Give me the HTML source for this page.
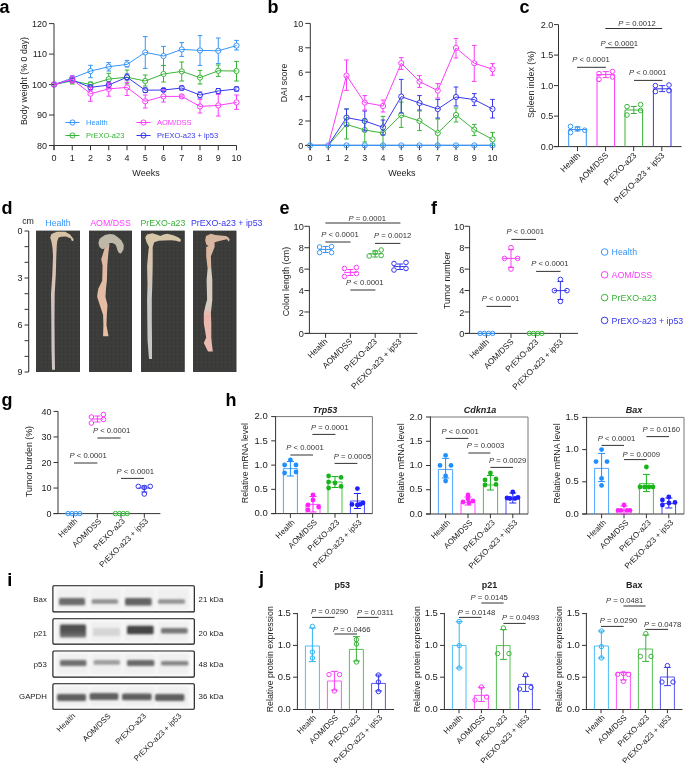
<!DOCTYPE html>
<html><head><meta charset="utf-8"><style>
html,body{margin:0;padding:0;background:#fff;}
svg{display:block;will-change:transform;}
text{font-family:"Liberation Sans", sans-serif;}
</style></head><body>
<svg width="685" height="763" viewBox="0 0 685 763">
<defs>
<filter id="blur2" x="-20%" y="-20%" width="140%" height="140%"><feGaussianBlur stdDeviation="1.5"/></filter>
<filter id="blur" x="-20%" y="-80%" width="140%" height="260%"><feGaussianBlur stdDeviation="1.0"/></filter>
<linearGradient id="gp21" x1="0" y1="0" x2="0" y2="1"><stop offset="0" stop-color="#4a4a4a"/><stop offset="0.55" stop-color="#555"/><stop offset="1" stop-color="#7a7a7a"/></linearGradient>
<linearGradient id="gH" gradientUnits="userSpaceOnUse" x1="0" y1="230" x2="0" y2="372"><stop offset="0" stop-color="#d6c3a5"/><stop offset="0.1" stop-color="#d9c0ab"/><stop offset="0.3" stop-color="#dcc0b2"/><stop offset="0.55" stop-color="#cfc3c2"/><stop offset="1" stop-color="#cdc6c4"/></linearGradient>
<linearGradient id="gA" gradientUnits="userSpaceOnUse" x1="0" y1="245" x2="0" y2="337"><stop offset="0" stop-color="#dcb9a2"/><stop offset="0.5" stop-color="#e6bba3"/><stop offset="1" stop-color="#e8c0a8"/></linearGradient>
<linearGradient id="gP" gradientUnits="userSpaceOnUse" x1="0" y1="230" x2="0" y2="360"><stop offset="0" stop-color="#d8c7a6"/><stop offset="0.2" stop-color="#d6c4ac"/><stop offset="0.38" stop-color="#d4c4b6"/><stop offset="0.5" stop-color="#c6c9c8"/><stop offset="1" stop-color="#c4c8c6"/></linearGradient>
<linearGradient id="gI" gradientUnits="userSpaceOnUse" x1="0" y1="230" x2="0" y2="352"><stop offset="0" stop-color="#d6b6a0"/><stop offset="0.3" stop-color="#dcb8a2"/><stop offset="0.33" stop-color="#d6cfc0"/><stop offset="0.64" stop-color="#d8ccbe"/><stop offset="0.7" stop-color="#e8b6ac"/><stop offset="1" stop-color="#ecbcb2"/></linearGradient>
<pattern id="bg" width="4" height="4" patternUnits="userSpaceOnUse"><rect width="4" height="4" fill="#3c3c3a"/><rect x="1" y="2" width="1" height="1" fill="#444442"/><rect x="3" y="0" width="1" height="1" fill="#353533"/></pattern>
</defs>
<text x="-0.5" y="13" font-size="18" text-anchor="start" fill="#000" font-weight="bold">a</text>
<line x1="54" y1="23.6" x2="54" y2="150" stroke="#333" stroke-width="1"/>
<line x1="49" y1="145.5" x2="236.5" y2="145.5" stroke="#333" stroke-width="1"/>
<line x1="49" y1="145.5" x2="54" y2="145.5" stroke="#333" stroke-width="1"/>
<text x="47" y="148.69" font-size="9" text-anchor="end" fill="#222">80</text>
<line x1="49" y1="115.03" x2="54" y2="115.03" stroke="#333" stroke-width="1"/>
<text x="47" y="118.22" font-size="9" text-anchor="end" fill="#222">90</text>
<line x1="49" y1="84.55" x2="54" y2="84.55" stroke="#333" stroke-width="1"/>
<text x="47" y="87.75" font-size="9" text-anchor="end" fill="#222">100</text>
<line x1="49" y1="54.08" x2="54" y2="54.08" stroke="#333" stroke-width="1"/>
<text x="47" y="57.27" font-size="9" text-anchor="end" fill="#222">110</text>
<line x1="49" y1="23.6" x2="54" y2="23.6" stroke="#333" stroke-width="1"/>
<text x="47" y="26.8" font-size="9" text-anchor="end" fill="#222">120</text>
<line x1="54" y1="145.5" x2="54" y2="150.3" stroke="#333" stroke-width="1"/>
<text x="54" y="161.2" font-size="9" text-anchor="middle" fill="#222">0</text>
<line x1="72.25" y1="145.5" x2="72.25" y2="150.3" stroke="#333" stroke-width="1"/>
<text x="72.25" y="161.2" font-size="9" text-anchor="middle" fill="#222">1</text>
<line x1="90.5" y1="145.5" x2="90.5" y2="150.3" stroke="#333" stroke-width="1"/>
<text x="90.5" y="161.2" font-size="9" text-anchor="middle" fill="#222">2</text>
<line x1="108.75" y1="145.5" x2="108.75" y2="150.3" stroke="#333" stroke-width="1"/>
<text x="108.75" y="161.2" font-size="9" text-anchor="middle" fill="#222">3</text>
<line x1="127" y1="145.5" x2="127" y2="150.3" stroke="#333" stroke-width="1"/>
<text x="127" y="161.2" font-size="9" text-anchor="middle" fill="#222">4</text>
<line x1="145.25" y1="145.5" x2="145.25" y2="150.3" stroke="#333" stroke-width="1"/>
<text x="145.25" y="161.2" font-size="9" text-anchor="middle" fill="#222">5</text>
<line x1="163.5" y1="145.5" x2="163.5" y2="150.3" stroke="#333" stroke-width="1"/>
<text x="163.5" y="161.2" font-size="9" text-anchor="middle" fill="#222">6</text>
<line x1="181.75" y1="145.5" x2="181.75" y2="150.3" stroke="#333" stroke-width="1"/>
<text x="181.75" y="161.2" font-size="9" text-anchor="middle" fill="#222">7</text>
<line x1="200" y1="145.5" x2="200" y2="150.3" stroke="#333" stroke-width="1"/>
<text x="200" y="161.2" font-size="9" text-anchor="middle" fill="#222">8</text>
<line x1="218.25" y1="145.5" x2="218.25" y2="150.3" stroke="#333" stroke-width="1"/>
<text x="218.25" y="161.2" font-size="9" text-anchor="middle" fill="#222">9</text>
<line x1="236.5" y1="145.5" x2="236.5" y2="150.3" stroke="#333" stroke-width="1"/>
<text x="236.5" y="161.2" font-size="9" text-anchor="middle" fill="#222">10</text>
<text x="146" y="175.7" font-size="9" text-anchor="middle" fill="#222">Weeks</text>
<text x="27.3" y="81" font-size="8.8" text-anchor="middle" fill="#222" transform="rotate(-90 27.3 81)">Body weight (% 0 day)</text>
<polyline points="54,84.5 72.25,78.2 90.5,71.1 108.75,66.7 127,64.4 145.25,52.4 163.5,56 181.75,49.4 200,50.4 218.25,50.8 236.5,45.6" fill="none" stroke="#3595f8" stroke-width="1"/>
<circle cx="54" cy="84.5" r="2.6" stroke="#3595f8" fill="none" stroke-width="1"/>
<line x1="69.95" y1="76" x2="74.55" y2="76" stroke="#3595f8" stroke-width="1"/>
<line x1="69.95" y1="80.5" x2="74.55" y2="80.5" stroke="#3595f8" stroke-width="1"/>
<circle cx="72.25" cy="78.2" r="2.6" stroke="#3595f8" fill="none" stroke-width="1"/>
<line x1="90.5" y1="65.3" x2="90.5" y2="68.5" stroke="#3595f8" stroke-width="1"/>
<line x1="90.5" y1="73.7" x2="90.5" y2="77.7" stroke="#3595f8" stroke-width="1"/>
<line x1="88.2" y1="65.3" x2="92.8" y2="65.3" stroke="#3595f8" stroke-width="1"/>
<line x1="88.2" y1="77.7" x2="92.8" y2="77.7" stroke="#3595f8" stroke-width="1"/>
<circle cx="90.5" cy="71.1" r="2.6" stroke="#3595f8" fill="none" stroke-width="1"/>
<line x1="108.75" y1="62.6" x2="108.75" y2="64.1" stroke="#3595f8" stroke-width="1"/>
<line x1="108.75" y1="69.3" x2="108.75" y2="71" stroke="#3595f8" stroke-width="1"/>
<line x1="106.45" y1="62.6" x2="111.05" y2="62.6" stroke="#3595f8" stroke-width="1"/>
<line x1="106.45" y1="71" x2="111.05" y2="71" stroke="#3595f8" stroke-width="1"/>
<circle cx="108.75" cy="66.7" r="2.6" stroke="#3595f8" fill="none" stroke-width="1"/>
<line x1="127" y1="60.4" x2="127" y2="61.8" stroke="#3595f8" stroke-width="1"/>
<line x1="124.7" y1="60.4" x2="129.3" y2="60.4" stroke="#3595f8" stroke-width="1"/>
<line x1="124.7" y1="67" x2="129.3" y2="67" stroke="#3595f8" stroke-width="1"/>
<circle cx="127" cy="64.4" r="2.6" stroke="#3595f8" fill="none" stroke-width="1"/>
<line x1="145.25" y1="36.6" x2="145.25" y2="49.8" stroke="#3595f8" stroke-width="1"/>
<line x1="145.25" y1="55" x2="145.25" y2="68.4" stroke="#3595f8" stroke-width="1"/>
<line x1="142.95" y1="36.6" x2="147.55" y2="36.6" stroke="#3595f8" stroke-width="1"/>
<line x1="142.95" y1="68.4" x2="147.55" y2="68.4" stroke="#3595f8" stroke-width="1"/>
<circle cx="145.25" cy="52.4" r="2.6" stroke="#3595f8" fill="none" stroke-width="1"/>
<line x1="163.5" y1="46.4" x2="163.5" y2="53.4" stroke="#3595f8" stroke-width="1"/>
<line x1="163.5" y1="58.6" x2="163.5" y2="65.4" stroke="#3595f8" stroke-width="1"/>
<line x1="161.2" y1="46.4" x2="165.8" y2="46.4" stroke="#3595f8" stroke-width="1"/>
<line x1="161.2" y1="65.4" x2="165.8" y2="65.4" stroke="#3595f8" stroke-width="1"/>
<circle cx="163.5" cy="56" r="2.6" stroke="#3595f8" fill="none" stroke-width="1"/>
<line x1="181.75" y1="42.6" x2="181.75" y2="46.8" stroke="#3595f8" stroke-width="1"/>
<line x1="181.75" y1="52" x2="181.75" y2="56.4" stroke="#3595f8" stroke-width="1"/>
<line x1="179.45" y1="42.6" x2="184.05" y2="42.6" stroke="#3595f8" stroke-width="1"/>
<line x1="179.45" y1="56.4" x2="184.05" y2="56.4" stroke="#3595f8" stroke-width="1"/>
<circle cx="181.75" cy="49.4" r="2.6" stroke="#3595f8" fill="none" stroke-width="1"/>
<line x1="200" y1="35.6" x2="200" y2="47.8" stroke="#3595f8" stroke-width="1"/>
<line x1="200" y1="53" x2="200" y2="65.4" stroke="#3595f8" stroke-width="1"/>
<line x1="197.7" y1="35.6" x2="202.3" y2="35.6" stroke="#3595f8" stroke-width="1"/>
<line x1="197.7" y1="65.4" x2="202.3" y2="65.4" stroke="#3595f8" stroke-width="1"/>
<circle cx="200" cy="50.4" r="2.6" stroke="#3595f8" fill="none" stroke-width="1"/>
<line x1="218.25" y1="38" x2="218.25" y2="48.2" stroke="#3595f8" stroke-width="1"/>
<line x1="218.25" y1="53.4" x2="218.25" y2="63.6" stroke="#3595f8" stroke-width="1"/>
<line x1="215.95" y1="38" x2="220.55" y2="38" stroke="#3595f8" stroke-width="1"/>
<line x1="215.95" y1="63.6" x2="220.55" y2="63.6" stroke="#3595f8" stroke-width="1"/>
<circle cx="218.25" cy="50.8" r="2.6" stroke="#3595f8" fill="none" stroke-width="1"/>
<line x1="236.5" y1="40.4" x2="236.5" y2="43" stroke="#3595f8" stroke-width="1"/>
<line x1="236.5" y1="48.2" x2="236.5" y2="50" stroke="#3595f8" stroke-width="1"/>
<line x1="234.2" y1="40.4" x2="238.8" y2="40.4" stroke="#3595f8" stroke-width="1"/>
<line x1="234.2" y1="50" x2="238.8" y2="50" stroke="#3595f8" stroke-width="1"/>
<circle cx="236.5" cy="45.6" r="2.6" stroke="#3595f8" fill="none" stroke-width="1"/>
<polyline points="54,84.5 72.25,80.9 90.5,84.5 108.75,79.1 127,77.2 145.25,81 163.5,74 181.75,71.4 200,77.6 218.25,70.8 236.5,71" fill="none" stroke="#37b437" stroke-width="1"/>
<circle cx="54" cy="84.5" r="2.6" stroke="#37b437" fill="none" stroke-width="1"/>
<line x1="72.25" y1="78" x2="72.25" y2="78.3" stroke="#37b437" stroke-width="1"/>
<line x1="72.25" y1="83.5" x2="72.25" y2="84" stroke="#37b437" stroke-width="1"/>
<line x1="69.95" y1="78" x2="74.55" y2="78" stroke="#37b437" stroke-width="1"/>
<line x1="69.95" y1="84" x2="74.55" y2="84" stroke="#37b437" stroke-width="1"/>
<circle cx="72.25" cy="80.9" r="2.6" stroke="#37b437" fill="none" stroke-width="1"/>
<line x1="88.2" y1="82" x2="92.8" y2="82" stroke="#37b437" stroke-width="1"/>
<line x1="88.2" y1="87" x2="92.8" y2="87" stroke="#37b437" stroke-width="1"/>
<circle cx="90.5" cy="84.5" r="2.6" stroke="#37b437" fill="none" stroke-width="1"/>
<line x1="108.75" y1="73.3" x2="108.75" y2="76.5" stroke="#37b437" stroke-width="1"/>
<line x1="108.75" y1="81.7" x2="108.75" y2="83.8" stroke="#37b437" stroke-width="1"/>
<line x1="106.45" y1="73.3" x2="111.05" y2="73.3" stroke="#37b437" stroke-width="1"/>
<line x1="106.45" y1="83.8" x2="111.05" y2="83.8" stroke="#37b437" stroke-width="1"/>
<circle cx="108.75" cy="79.1" r="2.6" stroke="#37b437" fill="none" stroke-width="1"/>
<line x1="127" y1="70" x2="127" y2="74.6" stroke="#37b437" stroke-width="1"/>
<line x1="127" y1="79.8" x2="127" y2="83.8" stroke="#37b437" stroke-width="1"/>
<line x1="124.7" y1="70" x2="129.3" y2="70" stroke="#37b437" stroke-width="1"/>
<line x1="124.7" y1="83.8" x2="129.3" y2="83.8" stroke="#37b437" stroke-width="1"/>
<circle cx="127" cy="77.2" r="2.6" stroke="#37b437" fill="none" stroke-width="1"/>
<line x1="145.25" y1="75" x2="145.25" y2="78.4" stroke="#37b437" stroke-width="1"/>
<line x1="145.25" y1="83.6" x2="145.25" y2="86" stroke="#37b437" stroke-width="1"/>
<line x1="142.95" y1="75" x2="147.55" y2="75" stroke="#37b437" stroke-width="1"/>
<line x1="142.95" y1="86" x2="147.55" y2="86" stroke="#37b437" stroke-width="1"/>
<circle cx="145.25" cy="81" r="2.6" stroke="#37b437" fill="none" stroke-width="1"/>
<line x1="163.5" y1="65.6" x2="163.5" y2="71.4" stroke="#37b437" stroke-width="1"/>
<line x1="163.5" y1="76.6" x2="163.5" y2="82" stroke="#37b437" stroke-width="1"/>
<line x1="161.2" y1="65.6" x2="165.8" y2="65.6" stroke="#37b437" stroke-width="1"/>
<line x1="161.2" y1="82" x2="165.8" y2="82" stroke="#37b437" stroke-width="1"/>
<circle cx="163.5" cy="74" r="2.6" stroke="#37b437" fill="none" stroke-width="1"/>
<line x1="181.75" y1="62" x2="181.75" y2="68.8" stroke="#37b437" stroke-width="1"/>
<line x1="181.75" y1="74" x2="181.75" y2="81" stroke="#37b437" stroke-width="1"/>
<line x1="179.45" y1="62" x2="184.05" y2="62" stroke="#37b437" stroke-width="1"/>
<line x1="179.45" y1="81" x2="184.05" y2="81" stroke="#37b437" stroke-width="1"/>
<circle cx="181.75" cy="71.4" r="2.6" stroke="#37b437" fill="none" stroke-width="1"/>
<line x1="200" y1="70.4" x2="200" y2="75" stroke="#37b437" stroke-width="1"/>
<line x1="200" y1="80.2" x2="200" y2="84" stroke="#37b437" stroke-width="1"/>
<line x1="197.7" y1="70.4" x2="202.3" y2="70.4" stroke="#37b437" stroke-width="1"/>
<line x1="197.7" y1="84" x2="202.3" y2="84" stroke="#37b437" stroke-width="1"/>
<circle cx="200" cy="77.6" r="2.6" stroke="#37b437" fill="none" stroke-width="1"/>
<line x1="218.25" y1="65" x2="218.25" y2="68.2" stroke="#37b437" stroke-width="1"/>
<line x1="218.25" y1="73.4" x2="218.25" y2="76.4" stroke="#37b437" stroke-width="1"/>
<line x1="215.95" y1="65" x2="220.55" y2="65" stroke="#37b437" stroke-width="1"/>
<line x1="215.95" y1="76.4" x2="220.55" y2="76.4" stroke="#37b437" stroke-width="1"/>
<circle cx="218.25" cy="70.8" r="2.6" stroke="#37b437" fill="none" stroke-width="1"/>
<line x1="236.5" y1="61.4" x2="236.5" y2="68.4" stroke="#37b437" stroke-width="1"/>
<line x1="236.5" y1="73.6" x2="236.5" y2="81" stroke="#37b437" stroke-width="1"/>
<line x1="234.2" y1="61.4" x2="238.8" y2="61.4" stroke="#37b437" stroke-width="1"/>
<line x1="234.2" y1="81" x2="238.8" y2="81" stroke="#37b437" stroke-width="1"/>
<circle cx="236.5" cy="71" r="2.6" stroke="#37b437" fill="none" stroke-width="1"/>
<polyline points="54,84.5 72.25,80 90.5,87.4 108.75,85 127,77.2 145.25,90.2 163.5,90 181.75,88 200,95 218.25,91 236.5,89" fill="none" stroke="#3737ef" stroke-width="1"/>
<circle cx="54" cy="84.5" r="2.6" stroke="#3737ef" fill="none" stroke-width="1"/>
<line x1="69.95" y1="78" x2="74.55" y2="78" stroke="#3737ef" stroke-width="1"/>
<line x1="69.95" y1="82" x2="74.55" y2="82" stroke="#3737ef" stroke-width="1"/>
<circle cx="72.25" cy="80" r="2.6" stroke="#3737ef" fill="none" stroke-width="1"/>
<line x1="88.2" y1="85" x2="92.8" y2="85" stroke="#3737ef" stroke-width="1"/>
<line x1="88.2" y1="90" x2="92.8" y2="90" stroke="#3737ef" stroke-width="1"/>
<circle cx="90.5" cy="87.4" r="2.6" stroke="#3737ef" fill="none" stroke-width="1"/>
<line x1="108.75" y1="82" x2="108.75" y2="82.4" stroke="#3737ef" stroke-width="1"/>
<line x1="108.75" y1="87.6" x2="108.75" y2="88" stroke="#3737ef" stroke-width="1"/>
<line x1="106.45" y1="82" x2="111.05" y2="82" stroke="#3737ef" stroke-width="1"/>
<line x1="106.45" y1="88" x2="111.05" y2="88" stroke="#3737ef" stroke-width="1"/>
<circle cx="108.75" cy="85" r="2.6" stroke="#3737ef" fill="none" stroke-width="1"/>
<line x1="127" y1="74" x2="127" y2="74.6" stroke="#3737ef" stroke-width="1"/>
<line x1="127" y1="79.8" x2="127" y2="80" stroke="#3737ef" stroke-width="1"/>
<line x1="124.7" y1="74" x2="129.3" y2="74" stroke="#3737ef" stroke-width="1"/>
<line x1="124.7" y1="80" x2="129.3" y2="80" stroke="#3737ef" stroke-width="1"/>
<circle cx="127" cy="77.2" r="2.6" stroke="#3737ef" fill="none" stroke-width="1"/>
<line x1="142.95" y1="88" x2="147.55" y2="88" stroke="#3737ef" stroke-width="1"/>
<line x1="142.95" y1="92.5" x2="147.55" y2="92.5" stroke="#3737ef" stroke-width="1"/>
<circle cx="145.25" cy="90.2" r="2.6" stroke="#3737ef" fill="none" stroke-width="1"/>
<line x1="161.2" y1="88.5" x2="165.8" y2="88.5" stroke="#3737ef" stroke-width="1"/>
<line x1="161.2" y1="91.5" x2="165.8" y2="91.5" stroke="#3737ef" stroke-width="1"/>
<circle cx="163.5" cy="90" r="2.6" stroke="#3737ef" fill="none" stroke-width="1"/>
<line x1="179.45" y1="86" x2="184.05" y2="86" stroke="#3737ef" stroke-width="1"/>
<line x1="179.45" y1="90" x2="184.05" y2="90" stroke="#3737ef" stroke-width="1"/>
<circle cx="181.75" cy="88" r="2.6" stroke="#3737ef" fill="none" stroke-width="1"/>
<line x1="200" y1="92" x2="200" y2="92.4" stroke="#3737ef" stroke-width="1"/>
<line x1="200" y1="97.6" x2="200" y2="98" stroke="#3737ef" stroke-width="1"/>
<line x1="197.7" y1="92" x2="202.3" y2="92" stroke="#3737ef" stroke-width="1"/>
<line x1="197.7" y1="98" x2="202.3" y2="98" stroke="#3737ef" stroke-width="1"/>
<circle cx="200" cy="95" r="2.6" stroke="#3737ef" fill="none" stroke-width="1"/>
<line x1="215.95" y1="88.5" x2="220.55" y2="88.5" stroke="#3737ef" stroke-width="1"/>
<line x1="215.95" y1="93.5" x2="220.55" y2="93.5" stroke="#3737ef" stroke-width="1"/>
<circle cx="218.25" cy="91" r="2.6" stroke="#3737ef" fill="none" stroke-width="1"/>
<line x1="234.2" y1="87" x2="238.8" y2="87" stroke="#3737ef" stroke-width="1"/>
<line x1="234.2" y1="91" x2="238.8" y2="91" stroke="#3737ef" stroke-width="1"/>
<circle cx="236.5" cy="89" r="2.6" stroke="#3737ef" fill="none" stroke-width="1"/>
<polyline points="54,84.5 72.25,79.4 90.5,93.7 108.75,88.9 127,87.4 145.25,101.3 163.5,96.4 181.75,96.4 200,106.4 218.25,105.4 236.5,102.4" fill="none" stroke="#fb3cfb" stroke-width="1"/>
<circle cx="54" cy="84.5" r="2.6" stroke="#fb3cfb" fill="none" stroke-width="1"/>
<line x1="72.25" y1="76" x2="72.25" y2="76.8" stroke="#fb3cfb" stroke-width="1"/>
<line x1="72.25" y1="82" x2="72.25" y2="83" stroke="#fb3cfb" stroke-width="1"/>
<line x1="69.95" y1="76" x2="74.55" y2="76" stroke="#fb3cfb" stroke-width="1"/>
<line x1="69.95" y1="83" x2="74.55" y2="83" stroke="#fb3cfb" stroke-width="1"/>
<circle cx="72.25" cy="79.4" r="2.6" stroke="#fb3cfb" fill="none" stroke-width="1"/>
<line x1="90.5" y1="87.4" x2="90.5" y2="91.1" stroke="#fb3cfb" stroke-width="1"/>
<line x1="90.5" y1="96.3" x2="90.5" y2="101.3" stroke="#fb3cfb" stroke-width="1"/>
<line x1="88.2" y1="87.4" x2="92.8" y2="87.4" stroke="#fb3cfb" stroke-width="1"/>
<line x1="88.2" y1="101.3" x2="92.8" y2="101.3" stroke="#fb3cfb" stroke-width="1"/>
<circle cx="90.5" cy="93.7" r="2.6" stroke="#fb3cfb" fill="none" stroke-width="1"/>
<line x1="108.75" y1="83" x2="108.75" y2="86.3" stroke="#fb3cfb" stroke-width="1"/>
<line x1="108.75" y1="91.5" x2="108.75" y2="96.2" stroke="#fb3cfb" stroke-width="1"/>
<line x1="106.45" y1="83" x2="111.05" y2="83" stroke="#fb3cfb" stroke-width="1"/>
<line x1="106.45" y1="96.2" x2="111.05" y2="96.2" stroke="#fb3cfb" stroke-width="1"/>
<circle cx="108.75" cy="88.9" r="2.6" stroke="#fb3cfb" fill="none" stroke-width="1"/>
<line x1="127" y1="82.3" x2="127" y2="84.8" stroke="#fb3cfb" stroke-width="1"/>
<line x1="127" y1="90" x2="127" y2="95.5" stroke="#fb3cfb" stroke-width="1"/>
<line x1="124.7" y1="82.3" x2="129.3" y2="82.3" stroke="#fb3cfb" stroke-width="1"/>
<line x1="124.7" y1="95.5" x2="129.3" y2="95.5" stroke="#fb3cfb" stroke-width="1"/>
<circle cx="127" cy="87.4" r="2.6" stroke="#fb3cfb" fill="none" stroke-width="1"/>
<line x1="145.25" y1="95" x2="145.25" y2="98.7" stroke="#fb3cfb" stroke-width="1"/>
<line x1="145.25" y1="103.9" x2="145.25" y2="108" stroke="#fb3cfb" stroke-width="1"/>
<line x1="142.95" y1="95" x2="147.55" y2="95" stroke="#fb3cfb" stroke-width="1"/>
<line x1="142.95" y1="108" x2="147.55" y2="108" stroke="#fb3cfb" stroke-width="1"/>
<circle cx="145.25" cy="101.3" r="2.6" stroke="#fb3cfb" fill="none" stroke-width="1"/>
<line x1="163.5" y1="90" x2="163.5" y2="93.8" stroke="#fb3cfb" stroke-width="1"/>
<line x1="163.5" y1="99" x2="163.5" y2="102" stroke="#fb3cfb" stroke-width="1"/>
<line x1="161.2" y1="90" x2="165.8" y2="90" stroke="#fb3cfb" stroke-width="1"/>
<line x1="161.2" y1="102" x2="165.8" y2="102" stroke="#fb3cfb" stroke-width="1"/>
<circle cx="163.5" cy="96.4" r="2.6" stroke="#fb3cfb" fill="none" stroke-width="1"/>
<line x1="179.45" y1="95" x2="184.05" y2="95" stroke="#fb3cfb" stroke-width="1"/>
<line x1="179.45" y1="98" x2="184.05" y2="98" stroke="#fb3cfb" stroke-width="1"/>
<circle cx="181.75" cy="96.4" r="2.6" stroke="#fb3cfb" fill="none" stroke-width="1"/>
<line x1="200" y1="99.4" x2="200" y2="103.8" stroke="#fb3cfb" stroke-width="1"/>
<line x1="200" y1="109" x2="200" y2="113" stroke="#fb3cfb" stroke-width="1"/>
<line x1="197.7" y1="99.4" x2="202.3" y2="99.4" stroke="#fb3cfb" stroke-width="1"/>
<line x1="197.7" y1="113" x2="202.3" y2="113" stroke="#fb3cfb" stroke-width="1"/>
<circle cx="200" cy="106.4" r="2.6" stroke="#fb3cfb" fill="none" stroke-width="1"/>
<line x1="218.25" y1="94.4" x2="218.25" y2="102.8" stroke="#fb3cfb" stroke-width="1"/>
<line x1="218.25" y1="108" x2="218.25" y2="116" stroke="#fb3cfb" stroke-width="1"/>
<line x1="215.95" y1="94.4" x2="220.55" y2="94.4" stroke="#fb3cfb" stroke-width="1"/>
<line x1="215.95" y1="116" x2="220.55" y2="116" stroke="#fb3cfb" stroke-width="1"/>
<circle cx="218.25" cy="105.4" r="2.6" stroke="#fb3cfb" fill="none" stroke-width="1"/>
<line x1="236.5" y1="95" x2="236.5" y2="99.8" stroke="#fb3cfb" stroke-width="1"/>
<line x1="236.5" y1="105" x2="236.5" y2="109.4" stroke="#fb3cfb" stroke-width="1"/>
<line x1="234.2" y1="95" x2="238.8" y2="95" stroke="#fb3cfb" stroke-width="1"/>
<line x1="234.2" y1="109.4" x2="238.8" y2="109.4" stroke="#fb3cfb" stroke-width="1"/>
<circle cx="236.5" cy="102.4" r="2.6" stroke="#fb3cfb" fill="none" stroke-width="1"/>
<line x1="65.5" y1="122.5" x2="79.5" y2="122.5" stroke="#3595f8" stroke-width="1"/>
<circle cx="72.5" cy="122.5" r="2.6" stroke="#3595f8" fill="none" stroke-width="1"/>
<text x="86" y="125.4" font-size="7.5" text-anchor="start" fill="#3595f8">Health</text>
<line x1="136.5" y1="122.5" x2="150.5" y2="122.5" stroke="#fb3cfb" stroke-width="1"/>
<circle cx="143.5" cy="122.5" r="2.6" stroke="#fb3cfb" fill="none" stroke-width="1"/>
<text x="157" y="125.4" font-size="7.5" text-anchor="start" fill="#fb3cfb">AOM/DSS</text>
<line x1="65.5" y1="135.5" x2="79.5" y2="135.5" stroke="#37b437" stroke-width="1"/>
<circle cx="72.5" cy="135.5" r="2.6" stroke="#37b437" fill="none" stroke-width="1"/>
<text x="86" y="138.4" font-size="7.5" text-anchor="start" fill="#37b437">PrEXO-a23</text>
<line x1="136.5" y1="135.5" x2="150.5" y2="135.5" stroke="#3737ef" stroke-width="1"/>
<circle cx="143.5" cy="135.5" r="2.6" stroke="#3737ef" fill="none" stroke-width="1"/>
<text x="157" y="138.4" font-size="7.5" text-anchor="start" fill="#3737ef">PrEXO-a23 + ip53</text>
<text x="267.5" y="13" font-size="18" text-anchor="start" fill="#000" font-weight="bold">b</text>
<line x1="310.3" y1="23.4" x2="310.3" y2="150.2" stroke="#333" stroke-width="1"/>
<line x1="305.5" y1="145.4" x2="492.5" y2="145.4" stroke="#333" stroke-width="1"/>
<line x1="305.3" y1="145.4" x2="310.3" y2="145.4" stroke="#333" stroke-width="1"/>
<text x="303.3" y="149.4" font-size="9" text-anchor="end" fill="#222">0</text>
<line x1="305.3" y1="121" x2="310.3" y2="121" stroke="#333" stroke-width="1"/>
<text x="303.3" y="124.99" font-size="9" text-anchor="end" fill="#222">2</text>
<line x1="305.3" y1="96.6" x2="310.3" y2="96.6" stroke="#333" stroke-width="1"/>
<text x="303.3" y="100.59" font-size="9" text-anchor="end" fill="#222">4</text>
<line x1="305.3" y1="72.2" x2="310.3" y2="72.2" stroke="#333" stroke-width="1"/>
<text x="303.3" y="76.2" font-size="9" text-anchor="end" fill="#222">6</text>
<line x1="305.3" y1="47.8" x2="310.3" y2="47.8" stroke="#333" stroke-width="1"/>
<text x="303.3" y="51.8" font-size="9" text-anchor="end" fill="#222">8</text>
<line x1="305.3" y1="23.4" x2="310.3" y2="23.4" stroke="#333" stroke-width="1"/>
<text x="303.3" y="27.4" font-size="9" text-anchor="end" fill="#222">10</text>
<line x1="310" y1="145.4" x2="310" y2="150.2" stroke="#333" stroke-width="1"/>
<text x="310" y="161.2" font-size="9" text-anchor="middle" fill="#222">0</text>
<line x1="328.25" y1="145.4" x2="328.25" y2="150.2" stroke="#333" stroke-width="1"/>
<text x="328.25" y="161.2" font-size="9" text-anchor="middle" fill="#222">1</text>
<line x1="346.5" y1="145.4" x2="346.5" y2="150.2" stroke="#333" stroke-width="1"/>
<text x="346.5" y="161.2" font-size="9" text-anchor="middle" fill="#222">2</text>
<line x1="364.75" y1="145.4" x2="364.75" y2="150.2" stroke="#333" stroke-width="1"/>
<text x="364.75" y="161.2" font-size="9" text-anchor="middle" fill="#222">3</text>
<line x1="383" y1="145.4" x2="383" y2="150.2" stroke="#333" stroke-width="1"/>
<text x="383" y="161.2" font-size="9" text-anchor="middle" fill="#222">4</text>
<line x1="401.25" y1="145.4" x2="401.25" y2="150.2" stroke="#333" stroke-width="1"/>
<text x="401.25" y="161.2" font-size="9" text-anchor="middle" fill="#222">5</text>
<line x1="419.5" y1="145.4" x2="419.5" y2="150.2" stroke="#333" stroke-width="1"/>
<text x="419.5" y="161.2" font-size="9" text-anchor="middle" fill="#222">6</text>
<line x1="437.75" y1="145.4" x2="437.75" y2="150.2" stroke="#333" stroke-width="1"/>
<text x="437.75" y="161.2" font-size="9" text-anchor="middle" fill="#222">7</text>
<line x1="456" y1="145.4" x2="456" y2="150.2" stroke="#333" stroke-width="1"/>
<text x="456" y="161.2" font-size="9" text-anchor="middle" fill="#222">8</text>
<line x1="474.25" y1="145.4" x2="474.25" y2="150.2" stroke="#333" stroke-width="1"/>
<text x="474.25" y="161.2" font-size="9" text-anchor="middle" fill="#222">9</text>
<line x1="492.5" y1="145.4" x2="492.5" y2="150.2" stroke="#333" stroke-width="1"/>
<text x="492.5" y="161.2" font-size="9" text-anchor="middle" fill="#222">10</text>
<text x="401.8" y="175.7" font-size="9" text-anchor="middle" fill="#222">Weeks</text>
<text x="287.3" y="83" font-size="8.8" text-anchor="middle" fill="#222" transform="rotate(-90 287.3 83)">DAI score</text>
<polyline points="310,145.4 328.25,145.4 346.5,124.4 364.75,130 383,133 401.25,115 419.5,121 437.75,133 456,115 474.25,129.6 492.5,139.4" fill="none" stroke="#37b437" stroke-width="1"/>
<line x1="346.5" y1="109" x2="346.5" y2="121.8" stroke="#37b437" stroke-width="1"/>
<line x1="346.5" y1="127" x2="346.5" y2="139" stroke="#37b437" stroke-width="1"/>
<line x1="344.2" y1="109" x2="348.8" y2="109" stroke="#37b437" stroke-width="1"/>
<line x1="344.2" y1="139" x2="348.8" y2="139" stroke="#37b437" stroke-width="1"/>
<circle cx="346.5" cy="124.4" r="2.6" stroke="#37b437" fill="none" stroke-width="1"/>
<line x1="364.75" y1="119" x2="364.75" y2="127.4" stroke="#37b437" stroke-width="1"/>
<line x1="364.75" y1="132.6" x2="364.75" y2="142" stroke="#37b437" stroke-width="1"/>
<line x1="362.45" y1="119" x2="367.05" y2="119" stroke="#37b437" stroke-width="1"/>
<line x1="362.45" y1="142" x2="367.05" y2="142" stroke="#37b437" stroke-width="1"/>
<circle cx="364.75" cy="130" r="2.6" stroke="#37b437" fill="none" stroke-width="1"/>
<line x1="383" y1="116.4" x2="383" y2="130.4" stroke="#37b437" stroke-width="1"/>
<line x1="383" y1="135.6" x2="383" y2="145.4" stroke="#37b437" stroke-width="1"/>
<line x1="380.7" y1="116.4" x2="385.3" y2="116.4" stroke="#37b437" stroke-width="1"/>
<line x1="380.7" y1="145.4" x2="385.3" y2="145.4" stroke="#37b437" stroke-width="1"/>
<circle cx="383" cy="133" r="2.6" stroke="#37b437" fill="none" stroke-width="1"/>
<line x1="401.25" y1="102" x2="401.25" y2="112.4" stroke="#37b437" stroke-width="1"/>
<line x1="401.25" y1="117.6" x2="401.25" y2="127.4" stroke="#37b437" stroke-width="1"/>
<line x1="398.95" y1="102" x2="403.55" y2="102" stroke="#37b437" stroke-width="1"/>
<line x1="398.95" y1="127.4" x2="403.55" y2="127.4" stroke="#37b437" stroke-width="1"/>
<circle cx="401.25" cy="115" r="2.6" stroke="#37b437" fill="none" stroke-width="1"/>
<line x1="419.5" y1="111" x2="419.5" y2="118.4" stroke="#37b437" stroke-width="1"/>
<line x1="419.5" y1="123.6" x2="419.5" y2="130.6" stroke="#37b437" stroke-width="1"/>
<line x1="417.2" y1="111" x2="421.8" y2="111" stroke="#37b437" stroke-width="1"/>
<line x1="417.2" y1="130.6" x2="421.8" y2="130.6" stroke="#37b437" stroke-width="1"/>
<circle cx="419.5" cy="121" r="2.6" stroke="#37b437" fill="none" stroke-width="1"/>
<line x1="437.75" y1="119" x2="437.75" y2="130.4" stroke="#37b437" stroke-width="1"/>
<line x1="437.75" y1="135.6" x2="437.75" y2="145.4" stroke="#37b437" stroke-width="1"/>
<line x1="435.45" y1="119" x2="440.05" y2="119" stroke="#37b437" stroke-width="1"/>
<line x1="435.45" y1="145.4" x2="440.05" y2="145.4" stroke="#37b437" stroke-width="1"/>
<circle cx="437.75" cy="133" r="2.6" stroke="#37b437" fill="none" stroke-width="1"/>
<line x1="456" y1="108" x2="456" y2="112.4" stroke="#37b437" stroke-width="1"/>
<line x1="456" y1="117.6" x2="456" y2="122" stroke="#37b437" stroke-width="1"/>
<line x1="453.7" y1="108" x2="458.3" y2="108" stroke="#37b437" stroke-width="1"/>
<line x1="453.7" y1="122" x2="458.3" y2="122" stroke="#37b437" stroke-width="1"/>
<circle cx="456" cy="115" r="2.6" stroke="#37b437" fill="none" stroke-width="1"/>
<line x1="474.25" y1="124.4" x2="474.25" y2="127" stroke="#37b437" stroke-width="1"/>
<line x1="474.25" y1="132.2" x2="474.25" y2="135.6" stroke="#37b437" stroke-width="1"/>
<line x1="471.95" y1="124.4" x2="476.55" y2="124.4" stroke="#37b437" stroke-width="1"/>
<line x1="471.95" y1="135.6" x2="476.55" y2="135.6" stroke="#37b437" stroke-width="1"/>
<circle cx="474.25" cy="129.6" r="2.6" stroke="#37b437" fill="none" stroke-width="1"/>
<line x1="492.5" y1="132.4" x2="492.5" y2="136.8" stroke="#37b437" stroke-width="1"/>
<line x1="492.5" y1="142" x2="492.5" y2="145.4" stroke="#37b437" stroke-width="1"/>
<line x1="490.2" y1="132.4" x2="494.8" y2="132.4" stroke="#37b437" stroke-width="1"/>
<line x1="490.2" y1="145.4" x2="494.8" y2="145.4" stroke="#37b437" stroke-width="1"/>
<circle cx="492.5" cy="139.4" r="2.6" stroke="#37b437" fill="none" stroke-width="1"/>
<polyline points="310,145.4 328.25,145.4 346.5,117.6 364.75,121 383,127.4 401.25,96.6 419.5,103 437.75,109 456,97 474.25,99.6 492.5,109" fill="none" stroke="#3737ef" stroke-width="1"/>
<line x1="346.5" y1="109" x2="346.5" y2="115" stroke="#3737ef" stroke-width="1"/>
<line x1="346.5" y1="120.2" x2="346.5" y2="126" stroke="#3737ef" stroke-width="1"/>
<line x1="344.2" y1="109" x2="348.8" y2="109" stroke="#3737ef" stroke-width="1"/>
<line x1="344.2" y1="126" x2="348.8" y2="126" stroke="#3737ef" stroke-width="1"/>
<circle cx="346.5" cy="117.6" r="2.6" stroke="#3737ef" fill="none" stroke-width="1"/>
<line x1="364.75" y1="111" x2="364.75" y2="118.4" stroke="#3737ef" stroke-width="1"/>
<line x1="364.75" y1="123.6" x2="364.75" y2="131" stroke="#3737ef" stroke-width="1"/>
<line x1="362.45" y1="111" x2="367.05" y2="111" stroke="#3737ef" stroke-width="1"/>
<line x1="362.45" y1="131" x2="367.05" y2="131" stroke="#3737ef" stroke-width="1"/>
<circle cx="364.75" cy="121" r="2.6" stroke="#3737ef" fill="none" stroke-width="1"/>
<line x1="383" y1="120" x2="383" y2="124.8" stroke="#3737ef" stroke-width="1"/>
<line x1="383" y1="130" x2="383" y2="135" stroke="#3737ef" stroke-width="1"/>
<line x1="380.7" y1="120" x2="385.3" y2="120" stroke="#3737ef" stroke-width="1"/>
<line x1="380.7" y1="135" x2="385.3" y2="135" stroke="#3737ef" stroke-width="1"/>
<circle cx="383" cy="127.4" r="2.6" stroke="#3737ef" fill="none" stroke-width="1"/>
<line x1="401.25" y1="79.4" x2="401.25" y2="94" stroke="#3737ef" stroke-width="1"/>
<line x1="401.25" y1="99.2" x2="401.25" y2="113" stroke="#3737ef" stroke-width="1"/>
<line x1="398.95" y1="79.4" x2="403.55" y2="79.4" stroke="#3737ef" stroke-width="1"/>
<line x1="398.95" y1="113" x2="403.55" y2="113" stroke="#3737ef" stroke-width="1"/>
<circle cx="401.25" cy="96.6" r="2.6" stroke="#3737ef" fill="none" stroke-width="1"/>
<line x1="419.5" y1="95.6" x2="419.5" y2="100.4" stroke="#3737ef" stroke-width="1"/>
<line x1="419.5" y1="105.6" x2="419.5" y2="110" stroke="#3737ef" stroke-width="1"/>
<line x1="417.2" y1="95.6" x2="421.8" y2="95.6" stroke="#3737ef" stroke-width="1"/>
<line x1="417.2" y1="110" x2="421.8" y2="110" stroke="#3737ef" stroke-width="1"/>
<circle cx="419.5" cy="103" r="2.6" stroke="#3737ef" fill="none" stroke-width="1"/>
<line x1="437.75" y1="99.4" x2="437.75" y2="106.4" stroke="#3737ef" stroke-width="1"/>
<line x1="437.75" y1="111.6" x2="437.75" y2="118" stroke="#3737ef" stroke-width="1"/>
<line x1="435.45" y1="99.4" x2="440.05" y2="99.4" stroke="#3737ef" stroke-width="1"/>
<line x1="435.45" y1="118" x2="440.05" y2="118" stroke="#3737ef" stroke-width="1"/>
<circle cx="437.75" cy="109" r="2.6" stroke="#3737ef" fill="none" stroke-width="1"/>
<line x1="456" y1="87" x2="456" y2="94.4" stroke="#3737ef" stroke-width="1"/>
<line x1="456" y1="99.6" x2="456" y2="106" stroke="#3737ef" stroke-width="1"/>
<line x1="453.7" y1="87" x2="458.3" y2="87" stroke="#3737ef" stroke-width="1"/>
<line x1="453.7" y1="106" x2="458.3" y2="106" stroke="#3737ef" stroke-width="1"/>
<circle cx="456" cy="97" r="2.6" stroke="#3737ef" fill="none" stroke-width="1"/>
<line x1="474.25" y1="93.6" x2="474.25" y2="97" stroke="#3737ef" stroke-width="1"/>
<line x1="474.25" y1="102.2" x2="474.25" y2="105.6" stroke="#3737ef" stroke-width="1"/>
<line x1="471.95" y1="93.6" x2="476.55" y2="93.6" stroke="#3737ef" stroke-width="1"/>
<line x1="471.95" y1="105.6" x2="476.55" y2="105.6" stroke="#3737ef" stroke-width="1"/>
<circle cx="474.25" cy="99.6" r="2.6" stroke="#3737ef" fill="none" stroke-width="1"/>
<line x1="492.5" y1="99.4" x2="492.5" y2="106.4" stroke="#3737ef" stroke-width="1"/>
<line x1="492.5" y1="111.6" x2="492.5" y2="118" stroke="#3737ef" stroke-width="1"/>
<line x1="490.2" y1="99.4" x2="494.8" y2="99.4" stroke="#3737ef" stroke-width="1"/>
<line x1="490.2" y1="118" x2="494.8" y2="118" stroke="#3737ef" stroke-width="1"/>
<circle cx="492.5" cy="109" r="2.6" stroke="#3737ef" fill="none" stroke-width="1"/>
<polyline points="310,145.4 328.25,145.4 346.5,75.6 364.75,102.6 383,106 401.25,63.2 419.5,81.6 437.75,90.6 456,48 474.25,63.2 492.5,69.2" fill="none" stroke="#fb3cfb" stroke-width="1"/>
<line x1="346.5" y1="60" x2="346.5" y2="73" stroke="#fb3cfb" stroke-width="1"/>
<line x1="346.5" y1="78.2" x2="346.5" y2="90.4" stroke="#fb3cfb" stroke-width="1"/>
<line x1="344.2" y1="60" x2="348.8" y2="60" stroke="#fb3cfb" stroke-width="1"/>
<line x1="344.2" y1="90.4" x2="348.8" y2="90.4" stroke="#fb3cfb" stroke-width="1"/>
<circle cx="346.5" cy="75.6" r="2.6" stroke="#fb3cfb" fill="none" stroke-width="1"/>
<line x1="364.75" y1="95.6" x2="364.75" y2="100" stroke="#fb3cfb" stroke-width="1"/>
<line x1="364.75" y1="105.2" x2="364.75" y2="110" stroke="#fb3cfb" stroke-width="1"/>
<line x1="362.45" y1="95.6" x2="367.05" y2="95.6" stroke="#fb3cfb" stroke-width="1"/>
<line x1="362.45" y1="110" x2="367.05" y2="110" stroke="#fb3cfb" stroke-width="1"/>
<circle cx="364.75" cy="102.6" r="2.6" stroke="#fb3cfb" fill="none" stroke-width="1"/>
<line x1="383" y1="100" x2="383" y2="103.4" stroke="#fb3cfb" stroke-width="1"/>
<line x1="383" y1="108.6" x2="383" y2="112" stroke="#fb3cfb" stroke-width="1"/>
<line x1="380.7" y1="100" x2="385.3" y2="100" stroke="#fb3cfb" stroke-width="1"/>
<line x1="380.7" y1="112" x2="385.3" y2="112" stroke="#fb3cfb" stroke-width="1"/>
<circle cx="383" cy="106" r="2.6" stroke="#fb3cfb" fill="none" stroke-width="1"/>
<line x1="401.25" y1="57.6" x2="401.25" y2="60.6" stroke="#fb3cfb" stroke-width="1"/>
<line x1="401.25" y1="65.8" x2="401.25" y2="69.4" stroke="#fb3cfb" stroke-width="1"/>
<line x1="398.95" y1="57.6" x2="403.55" y2="57.6" stroke="#fb3cfb" stroke-width="1"/>
<line x1="398.95" y1="69.4" x2="403.55" y2="69.4" stroke="#fb3cfb" stroke-width="1"/>
<circle cx="401.25" cy="63.2" r="2.6" stroke="#fb3cfb" fill="none" stroke-width="1"/>
<line x1="419.5" y1="75.6" x2="419.5" y2="79" stroke="#fb3cfb" stroke-width="1"/>
<line x1="419.5" y1="84.2" x2="419.5" y2="87.4" stroke="#fb3cfb" stroke-width="1"/>
<line x1="417.2" y1="75.6" x2="421.8" y2="75.6" stroke="#fb3cfb" stroke-width="1"/>
<line x1="417.2" y1="87.4" x2="421.8" y2="87.4" stroke="#fb3cfb" stroke-width="1"/>
<circle cx="419.5" cy="81.6" r="2.6" stroke="#fb3cfb" fill="none" stroke-width="1"/>
<line x1="437.75" y1="83.6" x2="437.75" y2="88" stroke="#fb3cfb" stroke-width="1"/>
<line x1="437.75" y1="93.2" x2="437.75" y2="98" stroke="#fb3cfb" stroke-width="1"/>
<line x1="435.45" y1="83.6" x2="440.05" y2="83.6" stroke="#fb3cfb" stroke-width="1"/>
<line x1="435.45" y1="98" x2="440.05" y2="98" stroke="#fb3cfb" stroke-width="1"/>
<circle cx="437.75" cy="90.6" r="2.6" stroke="#fb3cfb" fill="none" stroke-width="1"/>
<line x1="456" y1="38.4" x2="456" y2="45.4" stroke="#fb3cfb" stroke-width="1"/>
<line x1="456" y1="50.6" x2="456" y2="58" stroke="#fb3cfb" stroke-width="1"/>
<line x1="453.7" y1="38.4" x2="458.3" y2="38.4" stroke="#fb3cfb" stroke-width="1"/>
<line x1="453.7" y1="58" x2="458.3" y2="58" stroke="#fb3cfb" stroke-width="1"/>
<circle cx="456" cy="48" r="2.6" stroke="#fb3cfb" fill="none" stroke-width="1"/>
<line x1="474.25" y1="45.4" x2="474.25" y2="60.6" stroke="#fb3cfb" stroke-width="1"/>
<line x1="474.25" y1="65.8" x2="474.25" y2="81.4" stroke="#fb3cfb" stroke-width="1"/>
<line x1="471.95" y1="45.4" x2="476.55" y2="45.4" stroke="#fb3cfb" stroke-width="1"/>
<line x1="471.95" y1="81.4" x2="476.55" y2="81.4" stroke="#fb3cfb" stroke-width="1"/>
<circle cx="474.25" cy="63.2" r="2.6" stroke="#fb3cfb" fill="none" stroke-width="1"/>
<line x1="492.5" y1="63.6" x2="492.5" y2="66.6" stroke="#fb3cfb" stroke-width="1"/>
<line x1="492.5" y1="71.8" x2="492.5" y2="75.2" stroke="#fb3cfb" stroke-width="1"/>
<line x1="490.2" y1="63.6" x2="494.8" y2="63.6" stroke="#fb3cfb" stroke-width="1"/>
<line x1="490.2" y1="75.2" x2="494.8" y2="75.2" stroke="#fb3cfb" stroke-width="1"/>
<circle cx="492.5" cy="69.2" r="2.6" stroke="#fb3cfb" fill="none" stroke-width="1"/>
<polyline points="310,145.4 492.5,145.4" fill="none" stroke="#3595f8" stroke-width="1.1"/>
<circle cx="310" cy="145.4" r="2.6" stroke="#3595f8" fill="none" stroke-width="1"/>
<circle cx="328.25" cy="145.4" r="2.6" stroke="#3595f8" fill="none" stroke-width="1"/>
<circle cx="346.5" cy="145.4" r="2.6" stroke="#3595f8" fill="none" stroke-width="1"/>
<circle cx="364.75" cy="145.4" r="2.6" stroke="#3595f8" fill="none" stroke-width="1"/>
<circle cx="383" cy="145.4" r="2.6" stroke="#3595f8" fill="none" stroke-width="1"/>
<circle cx="401.25" cy="145.4" r="2.6" stroke="#3595f8" fill="none" stroke-width="1"/>
<circle cx="419.5" cy="145.4" r="2.6" stroke="#3595f8" fill="none" stroke-width="1"/>
<circle cx="437.75" cy="145.4" r="2.6" stroke="#3595f8" fill="none" stroke-width="1"/>
<circle cx="456" cy="145.4" r="2.6" stroke="#3595f8" fill="none" stroke-width="1"/>
<circle cx="474.25" cy="145.4" r="2.6" stroke="#3595f8" fill="none" stroke-width="1"/>
<circle cx="492.5" cy="145.4" r="2.6" stroke="#3595f8" fill="none" stroke-width="1"/>
<text x="519.5" y="13" font-size="18" text-anchor="start" fill="#000" font-weight="bold">c</text>
<line x1="558.5" y1="24.6" x2="558.5" y2="146.6" stroke="#333" stroke-width="1"/>
<line x1="553.5" y1="146.6" x2="681.6" y2="146.6" stroke="#333" stroke-width="1"/>
<line x1="554" y1="146.6" x2="558.5" y2="146.6" stroke="#333" stroke-width="1"/>
<text x="553.2" y="149.79" font-size="9" text-anchor="end" fill="#222">0.0</text>
<line x1="554" y1="116.1" x2="558.5" y2="116.1" stroke="#333" stroke-width="1"/>
<text x="553.2" y="119.29" font-size="9" text-anchor="end" fill="#222">0.5</text>
<line x1="554" y1="85.6" x2="558.5" y2="85.6" stroke="#333" stroke-width="1"/>
<text x="553.2" y="88.79" font-size="9" text-anchor="end" fill="#222">1.0</text>
<line x1="554" y1="55.1" x2="558.5" y2="55.1" stroke="#333" stroke-width="1"/>
<text x="553.2" y="58.29" font-size="9" text-anchor="end" fill="#222">1.5</text>
<line x1="554" y1="24.6" x2="558.5" y2="24.6" stroke="#333" stroke-width="1"/>
<text x="553.2" y="27.79" font-size="9" text-anchor="end" fill="#222">2.0</text>
<line x1="577.5" y1="146.6" x2="577.5" y2="151.1" stroke="#333" stroke-width="1"/>
<line x1="605.6" y1="146.6" x2="605.6" y2="151.1" stroke="#333" stroke-width="1"/>
<line x1="633.7" y1="146.6" x2="633.7" y2="151.1" stroke="#333" stroke-width="1"/>
<line x1="661.8" y1="146.6" x2="661.8" y2="151.1" stroke="#333" stroke-width="1"/>
<text x="533.8" y="84.5" font-size="8.8" text-anchor="middle" fill="#222" transform="rotate(-90 533.8 84.5)">Spleen index (%)</text>
<path d="M568.7 146.6 V129.5 H586.3 V146.6" fill="none" stroke="#3595f8" stroke-width="1"/>
<path d="M597 146.6 V74.6 H614.6 V146.6" fill="none" stroke="#fb3cfb" stroke-width="1"/>
<path d="M625 146.6 V110 H642.6 V146.6" fill="none" stroke="#37b437" stroke-width="1"/>
<path d="M653.4 146.6 V88.8 H671 V146.6" fill="none" stroke="#3737ef" stroke-width="1"/>
<line x1="577.5" y1="127" x2="577.5" y2="131" stroke="#3595f8" stroke-width="1"/>
<line x1="574.5" y1="127" x2="580.5" y2="127" stroke="#3595f8" stroke-width="1"/>
<line x1="574.5" y1="131" x2="580.5" y2="131" stroke="#3595f8" stroke-width="1"/>
<line x1="605.8" y1="71.6" x2="605.8" y2="77.6" stroke="#fb3cfb" stroke-width="1"/>
<line x1="602.8" y1="71.6" x2="608.8" y2="71.6" stroke="#fb3cfb" stroke-width="1"/>
<line x1="602.8" y1="77.6" x2="608.8" y2="77.6" stroke="#fb3cfb" stroke-width="1"/>
<line x1="633.8" y1="106.5" x2="633.8" y2="113.5" stroke="#37b437" stroke-width="1"/>
<line x1="630.8" y1="106.5" x2="636.8" y2="106.5" stroke="#37b437" stroke-width="1"/>
<line x1="630.8" y1="113.5" x2="636.8" y2="113.5" stroke="#37b437" stroke-width="1"/>
<line x1="662.2" y1="85.6" x2="662.2" y2="91.6" stroke="#3737ef" stroke-width="1"/>
<line x1="659.2" y1="85.6" x2="665.2" y2="85.6" stroke="#3737ef" stroke-width="1"/>
<line x1="659.2" y1="91.6" x2="665.2" y2="91.6" stroke="#3737ef" stroke-width="1"/>
<circle cx="570.5" cy="126.4" r="2.3" stroke="#3595f8" fill="none" stroke-width="1"/>
<circle cx="570.5" cy="132.5" r="2.3" stroke="#3595f8" fill="none" stroke-width="1"/>
<circle cx="577.5" cy="128.7" r="2.3" stroke="#3595f8" fill="none" stroke-width="1"/>
<circle cx="584.7" cy="130.2" r="2.3" stroke="#3595f8" fill="none" stroke-width="1"/>
<circle cx="599" cy="73.6" r="2.3" stroke="#fb3cfb" fill="none" stroke-width="1"/>
<circle cx="612.4" cy="71.4" r="2.3" stroke="#fb3cfb" fill="none" stroke-width="1"/>
<circle cx="599" cy="79.4" r="2.3" stroke="#fb3cfb" fill="none" stroke-width="1"/>
<circle cx="612.4" cy="77" r="2.3" stroke="#fb3cfb" fill="none" stroke-width="1"/>
<circle cx="627" cy="106.6" r="2.3" stroke="#37b437" fill="none" stroke-width="1"/>
<circle cx="640.6" cy="104.6" r="2.3" stroke="#37b437" fill="none" stroke-width="1"/>
<circle cx="640.6" cy="110.4" r="2.3" stroke="#37b437" fill="none" stroke-width="1"/>
<circle cx="627" cy="115" r="2.3" stroke="#37b437" fill="none" stroke-width="1"/>
<circle cx="655.4" cy="85.6" r="2.3" stroke="#3737ef" fill="none" stroke-width="1"/>
<circle cx="669" cy="85" r="2.3" stroke="#3737ef" fill="none" stroke-width="1"/>
<circle cx="655.4" cy="91.6" r="2.3" stroke="#3737ef" fill="none" stroke-width="1"/>
<circle cx="669" cy="90.6" r="2.3" stroke="#3737ef" fill="none" stroke-width="1"/>
<line x1="605.3" y1="28.5" x2="662.1" y2="28.5" stroke="#333" stroke-width="1"/>
<text x="637" y="25.6" font-size="7.7" text-anchor="middle" fill="#333"><tspan font-style="italic">P</tspan> = 0.0012</text>
<line x1="605.3" y1="47.7" x2="634.2" y2="47.7" stroke="#333" stroke-width="1"/>
<text x="619.3" y="45.8" font-size="7.7" text-anchor="middle" fill="#333"><tspan font-style="italic">P</tspan> &lt; 0.0001</text>
<line x1="577" y1="67.3" x2="605.9" y2="67.3" stroke="#333" stroke-width="1"/>
<text x="591" y="61.8" font-size="7.7" text-anchor="middle" fill="#333"><tspan font-style="italic">P</tspan> &lt; 0.0001</text>
<line x1="634" y1="80.4" x2="662.4" y2="80.4" stroke="#333" stroke-width="1"/>
<text x="647.6" y="74.6" font-size="7.7" text-anchor="middle" fill="#333"><tspan font-style="italic">P</tspan> &lt; 0.0001</text>
<text x="580.8" y="155.9" font-size="8.3" text-anchor="end" fill="#222" transform="rotate(-45 580.8 155.9)">Health</text>
<text x="608.9" y="155.9" font-size="8.3" text-anchor="end" fill="#222" transform="rotate(-45 608.9 155.9)">AOM/DSS</text>
<text x="637" y="155.9" font-size="8.3" text-anchor="end" fill="#222" transform="rotate(-45 637 155.9)">PrEXO-a23</text>
<text x="665.1" y="155.9" font-size="8.3" text-anchor="end" fill="#222" transform="rotate(-45 665.1 155.9)">PrEXO-a23 + ip53</text>
<text x="1.5" y="214" font-size="18" text-anchor="start" fill="#000" font-weight="bold">d</text>
<text x="28" y="223.6" font-size="8.8" text-anchor="middle" fill="#222">cm</text>
<line x1="28.7" y1="231" x2="28.7" y2="372" stroke="#333" stroke-width="1.1"/>
<line x1="24.5" y1="231" x2="28.7" y2="231" stroke="#333" stroke-width="1"/>
<line x1="24.5" y1="246.67" x2="28.7" y2="246.67" stroke="#333" stroke-width="1"/>
<line x1="24.5" y1="262.34" x2="28.7" y2="262.34" stroke="#333" stroke-width="1"/>
<line x1="24.5" y1="278.01" x2="28.7" y2="278.01" stroke="#333" stroke-width="1"/>
<line x1="24.5" y1="293.68" x2="28.7" y2="293.68" stroke="#333" stroke-width="1"/>
<line x1="24.5" y1="309.35" x2="28.7" y2="309.35" stroke="#333" stroke-width="1"/>
<line x1="24.5" y1="325.02" x2="28.7" y2="325.02" stroke="#333" stroke-width="1"/>
<line x1="24.5" y1="340.69" x2="28.7" y2="340.69" stroke="#333" stroke-width="1"/>
<line x1="24.5" y1="356.36" x2="28.7" y2="356.36" stroke="#333" stroke-width="1"/>
<line x1="24.5" y1="372.03" x2="28.7" y2="372.03" stroke="#333" stroke-width="1"/>
<text x="20" y="234.2" font-size="9" text-anchor="middle" fill="#222">0</text>
<text x="20" y="281.2" font-size="9" text-anchor="middle" fill="#222">3</text>
<text x="20" y="328.2" font-size="9" text-anchor="middle" fill="#222">6</text>
<text x="20" y="375.2" font-size="9" text-anchor="middle" fill="#222">9</text>
<rect x="36" y="230.6" width="44" height="141.4" fill="url(#bg)"/>
<rect x="89" y="230.6" width="43" height="141.4" fill="url(#bg)"/>
<rect x="141" y="230.6" width="43.8" height="141.4" fill="url(#bg)"/>
<rect x="193" y="230.6" width="43.5" height="141.4" fill="url(#bg)"/>
<text x="58" y="226" font-size="8.8" text-anchor="middle" fill="#3595f8">Health</text>
<text x="110.5" y="226" font-size="8.8" text-anchor="middle" fill="#fb3cfb">AOM/DSS</text>
<text x="162.9" y="226" font-size="8.8" text-anchor="middle" fill="#37b437">PrEXO-a23</text>
<text x="226.7" y="226" font-size="8.8" text-anchor="middle" fill="#3737ef">PrEXO-a23 + ip53</text>
<path d="M50.2 237.4 L51.5 234 L56.8 231.8 L65.2 231.8 L70 234.5 L73.7 239.3 L73.2 241.2 L71.5 240.5 L70.9 238.4 L66 236.5 L61 236.8 L58.6 237.6 L57.2 241.2 L56.8 245 L56.3 256 L55.8 275 L54.7 294 L54.5 320 L54.7 350 L55 369.7 L52 369.7 L51.5 350 L51.3 320 L51 294 L52.3 275 L53 256 L52.5 248 L51.6 242.2 Z" fill="url(#gH)"/>
<path d="M105 247 L102.2 256.3 L101.2 259 L102.6 265.7 L102.2 280.8 L98.4 288.4 L97.4 294 L97.2 297 L99.8 305 L103.1 315 L103.4 325.2 L103.1 336.3 L108.5 336.3 L106.5 325.2 L106.8 315 L107.5 305 L105.5 297 L105.9 289.3 L106.9 280.8 L107.3 265.7 L108.3 253.5 L109.5 244 Z" fill="url(#gA)"/>
<path d="M98.4 243 L99.5 239 L101.2 237.4 L105 235 L109.7 234.1 L114 234.6 L118.2 237.4 L121.5 240.5 L123.8 245 L123.5 249.5 L121 253.5 L119 253 L117.5 250.5 L116.8 247.8 L115.4 244.5 L112.5 243 L109.7 243.1 L107.5 246.5 L105.5 248.3 L102.2 249.2 L99.5 247 Z" fill="#bdb8a7"/>
<path d="M145.2 237.4 L147 234.5 L152.3 233.2 L157.9 235.1 L160.3 236 L163.5 234.5 L167.4 233.7 L174 235.5 L178.5 237.5 L181 239.8 L180.5 241.5 L179.2 241.7 L176 240.7 L171.1 240.3 L164 240.4 L158.9 240.7 L154.2 242.2 L152.7 246.9 L152.7 265.7 L152.3 284.6 L151.8 298.8 L151.8 320 L152 340 L152 359 L149 359 L147.5 340 L147.3 320 L147.1 298.8 L147.5 284.6 L147.1 265.7 L148.5 250 L149 246.9 L146.6 242.2 Z" fill="url(#gP)"/>
<path d="M205.2 240.3 L206 236 L210.9 233.7 L215.1 235.1 L220.3 235.5 L226 236 L228.5 237.5 L229.7 239.8 L228.8 241.7 L226.9 239.3 L220.3 240.7 L214.6 242.2 L214.6 246.9 L210.9 256.3 L211.3 268.6 L212.3 279.9 L212.3 300 L211.8 304.4 L210.9 312.9 L211.3 323.3 L211.3 337.5 L211.8 343.1 L212.8 351.6 L208 351.6 L203.8 343.1 L206.2 337.5 L203.8 323.3 L203.8 312.9 L205.7 304.4 L207.1 299.7 L206.6 279.9 L207.6 268.6 L206.2 256.3 L206.2 246.9 L208.5 245.9 L206.2 244.5 Z" fill="url(#gI)"/>
<text x="279.5" y="214" font-size="18" text-anchor="start" fill="#000" font-weight="bold">e</text>
<line x1="309.4" y1="226.3" x2="309.4" y2="333.4" stroke="#333" stroke-width="1"/>
<line x1="304.9" y1="333.4" x2="417.4" y2="333.4" stroke="#333" stroke-width="1"/>
<line x1="304.4" y1="333.4" x2="309.4" y2="333.4" stroke="#333" stroke-width="1"/>
<text x="303.8" y="337.17" font-size="9.2" text-anchor="end" fill="#222">0</text>
<line x1="304.4" y1="311.98" x2="309.4" y2="311.98" stroke="#333" stroke-width="1"/>
<text x="303.8" y="315.75" font-size="9.2" text-anchor="end" fill="#222">2</text>
<line x1="304.4" y1="290.56" x2="309.4" y2="290.56" stroke="#333" stroke-width="1"/>
<text x="303.8" y="294.33" font-size="9.2" text-anchor="end" fill="#222">4</text>
<line x1="304.4" y1="269.14" x2="309.4" y2="269.14" stroke="#333" stroke-width="1"/>
<text x="303.8" y="272.91" font-size="9.2" text-anchor="end" fill="#222">6</text>
<line x1="304.4" y1="247.72" x2="309.4" y2="247.72" stroke="#333" stroke-width="1"/>
<text x="303.8" y="251.49" font-size="9.2" text-anchor="end" fill="#222">8</text>
<line x1="304.4" y1="226.3" x2="309.4" y2="226.3" stroke="#333" stroke-width="1"/>
<text x="303.8" y="230.07" font-size="9.2" text-anchor="end" fill="#222">10</text>
<line x1="325.6" y1="333.4" x2="325.6" y2="337.9" stroke="#333" stroke-width="1"/>
<line x1="350.4" y1="333.4" x2="350.4" y2="337.9" stroke="#333" stroke-width="1"/>
<line x1="375.2" y1="333.4" x2="375.2" y2="337.9" stroke="#333" stroke-width="1"/>
<line x1="400" y1="333.4" x2="400" y2="337.9" stroke="#333" stroke-width="1"/>
<text x="289" y="281.6" font-size="8.8" text-anchor="middle" fill="#222" transform="rotate(-90 289 281.6)">Colon length (cm)</text>
<line x1="319.1" y1="249.4" x2="332.1" y2="249.4" stroke="#3595f8" stroke-width="1"/>
<line x1="325.6" y1="246.5" x2="325.6" y2="252.5" stroke="#3595f8" stroke-width="1"/>
<line x1="322.6" y1="246.5" x2="328.6" y2="246.5" stroke="#3595f8" stroke-width="1"/>
<line x1="322.6" y1="252.5" x2="328.6" y2="252.5" stroke="#3595f8" stroke-width="1"/>
<circle cx="319.6" cy="247" r="2.3" stroke="#3595f8" fill="none" stroke-width="1"/>
<circle cx="331.6" cy="246.6" r="2.3" stroke="#3595f8" fill="none" stroke-width="1"/>
<circle cx="319.6" cy="252.6" r="2.3" stroke="#3595f8" fill="none" stroke-width="1"/>
<circle cx="331.6" cy="252.6" r="2.3" stroke="#3595f8" fill="none" stroke-width="1"/>
<line x1="343.9" y1="272.4" x2="356.9" y2="272.4" stroke="#fb3cfb" stroke-width="1"/>
<line x1="350.4" y1="269.5" x2="350.4" y2="275.5" stroke="#fb3cfb" stroke-width="1"/>
<line x1="347.4" y1="269.5" x2="353.4" y2="269.5" stroke="#fb3cfb" stroke-width="1"/>
<line x1="347.4" y1="275.5" x2="353.4" y2="275.5" stroke="#fb3cfb" stroke-width="1"/>
<circle cx="344.4" cy="268.5" r="2.3" stroke="#fb3cfb" fill="none" stroke-width="1"/>
<circle cx="356.4" cy="267.5" r="2.3" stroke="#fb3cfb" fill="none" stroke-width="1"/>
<circle cx="344.4" cy="276.5" r="2.3" stroke="#fb3cfb" fill="none" stroke-width="1"/>
<circle cx="356.4" cy="273.5" r="2.3" stroke="#fb3cfb" fill="none" stroke-width="1"/>
<line x1="368.7" y1="253.8" x2="381.7" y2="253.8" stroke="#37b437" stroke-width="1"/>
<line x1="375.2" y1="251" x2="375.2" y2="257" stroke="#37b437" stroke-width="1"/>
<line x1="372.2" y1="251" x2="378.2" y2="251" stroke="#37b437" stroke-width="1"/>
<line x1="372.2" y1="257" x2="378.2" y2="257" stroke="#37b437" stroke-width="1"/>
<circle cx="369.2" cy="256" r="2.3" stroke="#37b437" fill="none" stroke-width="1"/>
<circle cx="381.2" cy="250" r="2.3" stroke="#37b437" fill="none" stroke-width="1"/>
<circle cx="375.2" cy="252.5" r="2.3" stroke="#37b437" fill="none" stroke-width="1"/>
<circle cx="381.2" cy="255.5" r="2.3" stroke="#37b437" fill="none" stroke-width="1"/>
<line x1="393.5" y1="266.6" x2="406.5" y2="266.6" stroke="#3737ef" stroke-width="1"/>
<line x1="400" y1="264" x2="400" y2="269.5" stroke="#3737ef" stroke-width="1"/>
<line x1="397" y1="264" x2="403" y2="264" stroke="#3737ef" stroke-width="1"/>
<line x1="397" y1="269.5" x2="403" y2="269.5" stroke="#3737ef" stroke-width="1"/>
<circle cx="394" cy="263.5" r="2.3" stroke="#3737ef" fill="none" stroke-width="1"/>
<circle cx="406" cy="262.5" r="2.3" stroke="#3737ef" fill="none" stroke-width="1"/>
<circle cx="394" cy="270" r="2.3" stroke="#3737ef" fill="none" stroke-width="1"/>
<circle cx="406" cy="268.5" r="2.3" stroke="#3737ef" fill="none" stroke-width="1"/>
<line x1="325.4" y1="223" x2="400.4" y2="223" stroke="#333" stroke-width="1"/>
<text x="367.3" y="220.8" font-size="7.7" text-anchor="middle" fill="#333"><tspan font-style="italic">P</tspan> = 0.0001</text>
<line x1="325.4" y1="242" x2="350.6" y2="242" stroke="#333" stroke-width="1"/>
<text x="340" y="236.6" font-size="7.7" text-anchor="middle" fill="#333"><tspan font-style="italic">P</tspan> &lt; 0.0001</text>
<line x1="375" y1="243.4" x2="400.4" y2="243.4" stroke="#333" stroke-width="1"/>
<text x="392.7" y="238" font-size="7.7" text-anchor="middle" fill="#333"><tspan font-style="italic">P</tspan> = 0.0012</text>
<line x1="350.4" y1="290" x2="375.4" y2="290" stroke="#333" stroke-width="1"/>
<text x="364.8" y="285" font-size="7.7" text-anchor="middle" fill="#333"><tspan font-style="italic">P</tspan> &lt; 0.0001</text>
<text x="328" y="341.9" font-size="8.3" text-anchor="end" fill="#222" transform="rotate(-45 328 341.9)">Health</text>
<text x="352.8" y="341.9" font-size="8.3" text-anchor="end" fill="#222" transform="rotate(-45 352.8 341.9)">AOM/DSS</text>
<text x="377.6" y="341.9" font-size="8.3" text-anchor="end" fill="#222" transform="rotate(-45 377.6 341.9)">PrEXO-a23</text>
<text x="402.4" y="341.9" font-size="8.3" text-anchor="end" fill="#222" transform="rotate(-45 402.4 341.9)">PrEXO-a23 + ip53</text>
<text x="431" y="214" font-size="18" text-anchor="start" fill="#000" font-weight="bold">f</text>
<line x1="469.6" y1="226.3" x2="469.6" y2="333.4" stroke="#333" stroke-width="1"/>
<line x1="465.1" y1="333.4" x2="578" y2="333.4" stroke="#333" stroke-width="1"/>
<line x1="464.6" y1="333.4" x2="469.6" y2="333.4" stroke="#333" stroke-width="1"/>
<text x="464.3" y="337.17" font-size="9.2" text-anchor="end" fill="#222">0</text>
<line x1="464.6" y1="311.98" x2="469.6" y2="311.98" stroke="#333" stroke-width="1"/>
<text x="464.3" y="315.75" font-size="9.2" text-anchor="end" fill="#222">2</text>
<line x1="464.6" y1="290.56" x2="469.6" y2="290.56" stroke="#333" stroke-width="1"/>
<text x="464.3" y="294.33" font-size="9.2" text-anchor="end" fill="#222">4</text>
<line x1="464.6" y1="269.14" x2="469.6" y2="269.14" stroke="#333" stroke-width="1"/>
<text x="464.3" y="272.91" font-size="9.2" text-anchor="end" fill="#222">6</text>
<line x1="464.6" y1="247.72" x2="469.6" y2="247.72" stroke="#333" stroke-width="1"/>
<text x="464.3" y="251.49" font-size="9.2" text-anchor="end" fill="#222">8</text>
<line x1="464.6" y1="226.3" x2="469.6" y2="226.3" stroke="#333" stroke-width="1"/>
<text x="464.3" y="230.07" font-size="9.2" text-anchor="end" fill="#222">10</text>
<line x1="486.4" y1="333.4" x2="486.4" y2="337.9" stroke="#333" stroke-width="1"/>
<line x1="511" y1="333.4" x2="511" y2="337.9" stroke="#333" stroke-width="1"/>
<line x1="535.6" y1="333.4" x2="535.6" y2="337.9" stroke="#333" stroke-width="1"/>
<line x1="560.4" y1="333.4" x2="560.4" y2="337.9" stroke="#333" stroke-width="1"/>
<text x="450" y="280.4" font-size="8.8" text-anchor="middle" fill="#222" transform="rotate(-90 450 280.4)">Tumor number</text>
<circle cx="480.1" cy="333.4" r="2.2" stroke="#3595f8" fill="none" stroke-width="1"/>
<circle cx="484.3" cy="333.4" r="2.2" stroke="#3595f8" fill="none" stroke-width="1"/>
<circle cx="488.5" cy="333.4" r="2.2" stroke="#3595f8" fill="none" stroke-width="1"/>
<circle cx="492.7" cy="333.4" r="2.2" stroke="#3595f8" fill="none" stroke-width="1"/>
<line x1="478" y1="333.4" x2="495" y2="333.4" stroke="#3595f8" stroke-width="1"/>
<circle cx="529.3" cy="333.4" r="2.2" stroke="#37b437" fill="none" stroke-width="1"/>
<circle cx="533.5" cy="333.4" r="2.2" stroke="#37b437" fill="none" stroke-width="1"/>
<circle cx="537.7" cy="333.4" r="2.2" stroke="#37b437" fill="none" stroke-width="1"/>
<circle cx="541.9" cy="333.4" r="2.2" stroke="#37b437" fill="none" stroke-width="1"/>
<line x1="527" y1="333.4" x2="544" y2="333.4" stroke="#37b437" stroke-width="1"/>
<line x1="502.5" y1="258.4" x2="519.5" y2="258.4" stroke="#fb3cfb" stroke-width="1"/>
<line x1="511" y1="249.6" x2="511" y2="267.4" stroke="#fb3cfb" stroke-width="1"/>
<line x1="508" y1="249.6" x2="514" y2="249.6" stroke="#fb3cfb" stroke-width="1"/>
<line x1="508" y1="267.4" x2="514" y2="267.4" stroke="#fb3cfb" stroke-width="1"/>
<circle cx="511" cy="247.6" r="2.3" stroke="#fb3cfb" fill="none" stroke-width="1"/>
<circle cx="504.4" cy="258.4" r="2.3" stroke="#fb3cfb" fill="none" stroke-width="1"/>
<circle cx="517.6" cy="258.4" r="2.3" stroke="#fb3cfb" fill="none" stroke-width="1"/>
<circle cx="511" cy="269" r="2.3" stroke="#fb3cfb" fill="none" stroke-width="1"/>
<line x1="553.9" y1="290.6" x2="566.9" y2="290.6" stroke="#3737ef" stroke-width="1"/>
<line x1="560.4" y1="281.5" x2="560.4" y2="299.5" stroke="#3737ef" stroke-width="1"/>
<line x1="557.4" y1="281.5" x2="563.4" y2="281.5" stroke="#3737ef" stroke-width="1"/>
<line x1="557.4" y1="299.5" x2="563.4" y2="299.5" stroke="#3737ef" stroke-width="1"/>
<circle cx="560.4" cy="279.4" r="2.3" stroke="#3737ef" fill="none" stroke-width="1"/>
<circle cx="554.4" cy="290.6" r="2.3" stroke="#3737ef" fill="none" stroke-width="1"/>
<circle cx="567" cy="290.6" r="2.3" stroke="#3737ef" fill="none" stroke-width="1"/>
<circle cx="560.4" cy="301.4" r="2.3" stroke="#3737ef" fill="none" stroke-width="1"/>
<line x1="511.4" y1="239.4" x2="536" y2="239.4" stroke="#333" stroke-width="1"/>
<text x="525.3" y="234.4" font-size="7.7" text-anchor="middle" fill="#333"><tspan font-style="italic">P</tspan> &lt; 0.0001</text>
<line x1="536.1" y1="271.4" x2="560.5" y2="271.4" stroke="#333" stroke-width="1"/>
<text x="549.9" y="265.9" font-size="7.7" text-anchor="middle" fill="#333"><tspan font-style="italic">P</tspan> &lt; 0.0001</text>
<line x1="486.4" y1="306.4" x2="511" y2="306.4" stroke="#333" stroke-width="1"/>
<text x="500.5" y="301.4" font-size="7.7" text-anchor="middle" fill="#333"><tspan font-style="italic">P</tspan> &lt; 0.0001</text>
<text x="489.6" y="342.4" font-size="8.3" text-anchor="end" fill="#222" transform="rotate(-45 489.6 342.4)">Health</text>
<text x="514.2" y="342.4" font-size="8.3" text-anchor="end" fill="#222" transform="rotate(-45 514.2 342.4)">AOM/DSS</text>
<text x="538.8" y="342.4" font-size="8.3" text-anchor="end" fill="#222" transform="rotate(-45 538.8 342.4)">PrEXO-a23</text>
<text x="563.6" y="342.4" font-size="8.3" text-anchor="end" fill="#222" transform="rotate(-45 563.6 342.4)">PrEXO-a23 + ip53</text>
<circle cx="604.6" cy="252" r="3.3" stroke="#3595f8" fill="none" stroke-width="1"/>
<text x="611.6" y="255.3" font-size="8.8" text-anchor="start" fill="#3595f8">Health</text>
<circle cx="604.6" cy="274.8" r="3.3" stroke="#fb3cfb" fill="none" stroke-width="1"/>
<text x="611.6" y="278.1" font-size="8.8" text-anchor="start" fill="#fb3cfb">AOM/DSS</text>
<circle cx="604.6" cy="297.6" r="3.3" stroke="#37b437" fill="none" stroke-width="1"/>
<text x="611.6" y="300.9" font-size="8.8" text-anchor="start" fill="#37b437">PrEXO-a23</text>
<circle cx="604.6" cy="320.4" r="3.3" stroke="#3737ef" fill="none" stroke-width="1"/>
<text x="611.6" y="323.7" font-size="8.8" text-anchor="start" fill="#3737ef">PrEXO-a23 + ip53</text>
<text x="1.5" y="406" font-size="18" text-anchor="start" fill="#000" font-weight="bold">g</text>
<line x1="58" y1="411.4" x2="58" y2="513.6" stroke="#333" stroke-width="1"/>
<line x1="53.5" y1="513.6" x2="160.4" y2="513.6" stroke="#333" stroke-width="1"/>
<line x1="53.5" y1="513.6" x2="58" y2="513.6" stroke="#333" stroke-width="1"/>
<text x="51.5" y="516.8" font-size="9" text-anchor="end" fill="#222">0</text>
<line x1="53.5" y1="488.05" x2="58" y2="488.05" stroke="#333" stroke-width="1"/>
<text x="51.5" y="491.25" font-size="9" text-anchor="end" fill="#222">10</text>
<line x1="53.5" y1="462.5" x2="58" y2="462.5" stroke="#333" stroke-width="1"/>
<text x="51.5" y="465.69" font-size="9" text-anchor="end" fill="#222">20</text>
<line x1="53.5" y1="436.95" x2="58" y2="436.95" stroke="#333" stroke-width="1"/>
<text x="51.5" y="440.15" font-size="9" text-anchor="end" fill="#222">30</text>
<line x1="53.5" y1="411.4" x2="58" y2="411.4" stroke="#333" stroke-width="1"/>
<text x="51.5" y="414.6" font-size="9" text-anchor="end" fill="#222">40</text>
<line x1="73.5" y1="513.6" x2="73.5" y2="517.8" stroke="#333" stroke-width="1"/>
<line x1="97.3" y1="513.6" x2="97.3" y2="517.8" stroke="#333" stroke-width="1"/>
<line x1="121" y1="513.6" x2="121" y2="517.8" stroke="#333" stroke-width="1"/>
<line x1="144.3" y1="513.6" x2="144.3" y2="517.8" stroke="#333" stroke-width="1"/>
<text x="31.5" y="461.5" font-size="8.8" text-anchor="middle" fill="#222" transform="rotate(-90 31.5 461.5)">Tumor burden (%)</text>
<circle cx="68" cy="513.6" r="2.2" stroke="#3595f8" fill="none" stroke-width="1"/>
<circle cx="71.9" cy="513.6" r="2.2" stroke="#3595f8" fill="none" stroke-width="1"/>
<circle cx="75.8" cy="513.6" r="2.2" stroke="#3595f8" fill="none" stroke-width="1"/>
<circle cx="79.8" cy="513.6" r="2.2" stroke="#3595f8" fill="none" stroke-width="1"/>
<line x1="66" y1="513.6" x2="82" y2="513.6" stroke="#3595f8" stroke-width="1"/>
<circle cx="115.5" cy="513.6" r="2.2" stroke="#37b437" fill="none" stroke-width="1"/>
<circle cx="119.4" cy="513.6" r="2.2" stroke="#37b437" fill="none" stroke-width="1"/>
<circle cx="123.3" cy="513.6" r="2.2" stroke="#37b437" fill="none" stroke-width="1"/>
<circle cx="127.3" cy="513.6" r="2.2" stroke="#37b437" fill="none" stroke-width="1"/>
<line x1="113.5" y1="513.6" x2="129.5" y2="513.6" stroke="#37b437" stroke-width="1"/>
<line x1="91.4" y1="419" x2="103.4" y2="419" stroke="#fb3cfb" stroke-width="1"/>
<line x1="97.4" y1="416" x2="97.4" y2="422" stroke="#fb3cfb" stroke-width="1"/>
<line x1="94.4" y1="416" x2="100.4" y2="416" stroke="#fb3cfb" stroke-width="1"/>
<line x1="94.4" y1="422" x2="100.4" y2="422" stroke="#fb3cfb" stroke-width="1"/>
<circle cx="91.4" cy="417" r="2.3" stroke="#fb3cfb" fill="none" stroke-width="1"/>
<circle cx="103.4" cy="414.5" r="2.3" stroke="#fb3cfb" fill="none" stroke-width="1"/>
<circle cx="91.4" cy="423" r="2.3" stroke="#fb3cfb" fill="none" stroke-width="1"/>
<circle cx="103.4" cy="419.5" r="2.3" stroke="#fb3cfb" fill="none" stroke-width="1"/>
<line x1="138.3" y1="488" x2="150.3" y2="488" stroke="#3737ef" stroke-width="1"/>
<line x1="144.3" y1="486" x2="144.3" y2="492" stroke="#3737ef" stroke-width="1"/>
<line x1="141.3" y1="486" x2="147.3" y2="486" stroke="#3737ef" stroke-width="1"/>
<line x1="141.3" y1="492" x2="147.3" y2="492" stroke="#3737ef" stroke-width="1"/>
<circle cx="138.3" cy="486.4" r="2.3" stroke="#3737ef" fill="none" stroke-width="1"/>
<circle cx="150.3" cy="486.4" r="2.3" stroke="#3737ef" fill="none" stroke-width="1"/>
<circle cx="144.3" cy="494" r="2.3" stroke="#3737ef" fill="none" stroke-width="1"/>
<circle cx="144.3" cy="487.5" r="2.3" stroke="#3737ef" fill="none" stroke-width="1"/>
<line x1="97.4" y1="438" x2="120.6" y2="438" stroke="#333" stroke-width="1"/>
<text x="111.6" y="433" font-size="7.7" text-anchor="middle" fill="#333"><tspan font-style="italic">P</tspan> &lt; 0.0001</text>
<line x1="74" y1="463" x2="97.4" y2="463" stroke="#333" stroke-width="1"/>
<text x="88.2" y="458.4" font-size="7.7" text-anchor="middle" fill="#333"><tspan font-style="italic">P</tspan> &lt; 0.0001</text>
<line x1="121" y1="478.4" x2="144" y2="478.4" stroke="#333" stroke-width="1"/>
<text x="135.3" y="473.6" font-size="7.7" text-anchor="middle" fill="#333"><tspan font-style="italic">P</tspan> &lt; 0.0001</text>
<text x="77.9" y="521.6" font-size="8" text-anchor="end" fill="#222" transform="rotate(-45 77.9 521.6)">Health</text>
<text x="101.7" y="521.6" font-size="8" text-anchor="end" fill="#222" transform="rotate(-45 101.7 521.6)">AOM/DSS</text>
<text x="125.4" y="521.6" font-size="8" text-anchor="end" fill="#222" transform="rotate(-45 125.4 521.6)">PrEXO-a23</text>
<text x="148.7" y="521.6" font-size="8" text-anchor="end" fill="#222" transform="rotate(-45 148.7 521.6)">PrEXO-a23 + ip53</text>
<text x="225.5" y="406" font-size="18" text-anchor="start" fill="#000" font-weight="bold">h</text>
<path d="M275.6 416.6 H372.4 V513.6" fill="none" stroke="#777" stroke-width="1"/>
<line x1="275.6" y1="416.1" x2="275.6" y2="513.6" stroke="#333" stroke-width="1"/>
<line x1="271.2" y1="513.6" x2="372.4" y2="513.6" stroke="#333" stroke-width="1"/>
<line x1="271.2" y1="513.6" x2="275.6" y2="513.6" stroke="#333" stroke-width="1"/>
<text x="267.8" y="516.26" font-size="9.5" text-anchor="end" fill="#222">0.0</text>
<line x1="271.2" y1="489.35" x2="275.6" y2="489.35" stroke="#333" stroke-width="1"/>
<text x="267.8" y="492.01" font-size="9.5" text-anchor="end" fill="#222">0.5</text>
<line x1="271.2" y1="465.1" x2="275.6" y2="465.1" stroke="#333" stroke-width="1"/>
<text x="267.8" y="467.76" font-size="9.5" text-anchor="end" fill="#222">1.0</text>
<line x1="271.2" y1="440.85" x2="275.6" y2="440.85" stroke="#333" stroke-width="1"/>
<text x="267.8" y="443.51" font-size="9.5" text-anchor="end" fill="#222">1.5</text>
<line x1="271.2" y1="416.6" x2="275.6" y2="416.6" stroke="#333" stroke-width="1"/>
<text x="267.8" y="419.26" font-size="9.5" text-anchor="end" fill="#222">2.0</text>
<text x="325" y="412.6" font-size="9" text-anchor="middle" fill="#222" font-weight="bold" font-style="italic">Trp53</text>
<text x="247.6" y="463.1" font-size="8.8" text-anchor="middle" fill="#222" transform="rotate(-90 247.6 463.1)">Relative mRNA level</text>
<line x1="290.4" y1="513.6" x2="290.4" y2="517.8" stroke="#333" stroke-width="1"/>
<line x1="312.7" y1="513.6" x2="312.7" y2="517.8" stroke="#333" stroke-width="1"/>
<line x1="335" y1="513.6" x2="335" y2="517.8" stroke="#333" stroke-width="1"/>
<line x1="357.3" y1="513.6" x2="357.3" y2="517.8" stroke="#333" stroke-width="1"/>
<path d="M283.4 513.6 V468.6 H297.4 V513.6" fill="none" stroke="#1f8fff" stroke-width="1" opacity="0.8"/>
<path d="M306 513.6 V504.4 H320 V513.6" fill="none" stroke="#ff22ff" stroke-width="1" opacity="0.8"/>
<path d="M328 513.6 V482 H342 V513.6" fill="none" stroke="#19b419" stroke-width="1" opacity="0.8"/>
<path d="M350.4 513.6 V501 H364.4 V513.6" fill="none" stroke="#2020ff" stroke-width="1" opacity="0.8"/>
<line x1="290.4" y1="461.5" x2="290.4" y2="476" stroke="#1f8fff" stroke-width="1"/>
<line x1="286.9" y1="461.5" x2="293.9" y2="461.5" stroke="#1f8fff" stroke-width="1"/>
<line x1="286.9" y1="476" x2="293.9" y2="476" stroke="#1f8fff" stroke-width="1"/>
<line x1="313" y1="496.5" x2="313" y2="512" stroke="#ff22ff" stroke-width="1"/>
<line x1="309.5" y1="496.5" x2="316.5" y2="496.5" stroke="#ff22ff" stroke-width="1"/>
<line x1="309.5" y1="512" x2="316.5" y2="512" stroke="#ff22ff" stroke-width="1"/>
<line x1="335" y1="476.5" x2="335" y2="487.5" stroke="#19b419" stroke-width="1"/>
<line x1="331.5" y1="476.5" x2="338.5" y2="476.5" stroke="#19b419" stroke-width="1"/>
<line x1="331.5" y1="487.5" x2="338.5" y2="487.5" stroke="#19b419" stroke-width="1"/>
<line x1="357.4" y1="493.5" x2="357.4" y2="508.5" stroke="#2020ff" stroke-width="1"/>
<line x1="353.9" y1="493.5" x2="360.9" y2="493.5" stroke="#2020ff" stroke-width="1"/>
<line x1="353.9" y1="508.5" x2="360.9" y2="508.5" stroke="#2020ff" stroke-width="1"/>
<circle cx="284.6" cy="465" r="2.4" fill="#1f8fff"/>
<circle cx="290.4" cy="460" r="2.4" fill="#1f8fff"/>
<circle cx="296" cy="465" r="2.4" fill="#1f8fff"/>
<circle cx="284.6" cy="473" r="2.4" fill="#1f8fff"/>
<circle cx="296" cy="472" r="2.4" fill="#1f8fff"/>
<circle cx="313" cy="495" r="2.4" fill="#ff22ff"/>
<circle cx="313" cy="500" r="2.4" fill="#ff22ff"/>
<circle cx="308" cy="505" r="2.4" fill="#ff22ff"/>
<circle cx="318.6" cy="507" r="2.4" fill="#ff22ff"/>
<circle cx="308" cy="510" r="2.4" fill="#ff22ff"/>
<circle cx="328.6" cy="476" r="2.4" fill="#19b419"/>
<circle cx="341" cy="477.4" r="2.4" fill="#19b419"/>
<circle cx="328.6" cy="482" r="2.4" fill="#19b419"/>
<circle cx="335" cy="483" r="2.4" fill="#19b419"/>
<circle cx="328.6" cy="488" r="2.4" fill="#19b419"/>
<circle cx="341" cy="486.4" r="2.4" fill="#19b419"/>
<circle cx="352" cy="504.4" r="2.4" fill="#2020ff"/>
<circle cx="357.4" cy="488.6" r="2.4" fill="#2020ff"/>
<circle cx="360" cy="504.4" r="2.4" fill="#2020ff"/>
<circle cx="363" cy="503" r="2.4" fill="#2020ff"/>
<circle cx="357.4" cy="505" r="2.4" fill="#2020ff"/>
<line x1="290.4" y1="455" x2="313" y2="455" stroke="#333" stroke-width="1"/>
<text x="305" y="450.4" font-size="7.7" text-anchor="middle" fill="#333"><tspan font-style="italic">P</tspan> &lt; 0.0001</text>
<line x1="312.4" y1="434.4" x2="335.4" y2="434.4" stroke="#333" stroke-width="1"/>
<text x="329.8" y="429.6" font-size="7.7" text-anchor="middle" fill="#333"><tspan font-style="italic">P</tspan> = 0.0001</text>
<line x1="334.6" y1="463.4" x2="357.4" y2="463.4" stroke="#333" stroke-width="1"/>
<text x="352.5" y="459" font-size="7.7" text-anchor="middle" fill="#333"><tspan font-style="italic">P</tspan> = 0.0005</text>
<text x="295.2" y="522.8" font-size="8" text-anchor="end" fill="#222" transform="rotate(-45 295.2 522.8)">Health</text>
<text x="317.5" y="522.8" font-size="8" text-anchor="end" fill="#222" transform="rotate(-45 317.5 522.8)">AOM/DSS</text>
<text x="339.8" y="522.8" font-size="8" text-anchor="end" fill="#222" transform="rotate(-45 339.8 522.8)">PrEXO-a23</text>
<text x="362.1" y="522.8" font-size="8" text-anchor="end" fill="#222" transform="rotate(-45 362.1 522.8)">PrEXO-a23 + ip53</text>
<path d="M430.4 417 H528 V514" fill="none" stroke="#777" stroke-width="1"/>
<line x1="430.4" y1="416.5" x2="430.4" y2="514" stroke="#333" stroke-width="1"/>
<line x1="426" y1="514" x2="528" y2="514" stroke="#333" stroke-width="1"/>
<line x1="426" y1="514" x2="430.4" y2="514" stroke="#333" stroke-width="1"/>
<text x="422.6" y="516.66" font-size="9.5" text-anchor="end" fill="#222">0.0</text>
<line x1="426" y1="489.75" x2="430.4" y2="489.75" stroke="#333" stroke-width="1"/>
<text x="422.6" y="492.41" font-size="9.5" text-anchor="end" fill="#222">0.5</text>
<line x1="426" y1="465.5" x2="430.4" y2="465.5" stroke="#333" stroke-width="1"/>
<text x="422.6" y="468.16" font-size="9.5" text-anchor="end" fill="#222">1.0</text>
<line x1="426" y1="441.25" x2="430.4" y2="441.25" stroke="#333" stroke-width="1"/>
<text x="422.6" y="443.91" font-size="9.5" text-anchor="end" fill="#222">1.5</text>
<line x1="426" y1="417" x2="430.4" y2="417" stroke="#333" stroke-width="1"/>
<text x="422.6" y="419.66" font-size="9.5" text-anchor="end" fill="#222">2.0</text>
<text x="480" y="412.6" font-size="9" text-anchor="middle" fill="#222" font-weight="bold" font-style="italic">Cdkn1a</text>
<text x="404" y="463.5" font-size="8.8" text-anchor="middle" fill="#222" transform="rotate(-90 404 463.5)">Relative mRNA level</text>
<line x1="445.6" y1="514" x2="445.6" y2="518.2" stroke="#333" stroke-width="1"/>
<line x1="468" y1="514" x2="468" y2="518.2" stroke="#333" stroke-width="1"/>
<line x1="490.4" y1="514" x2="490.4" y2="518.2" stroke="#333" stroke-width="1"/>
<line x1="512.8" y1="514" x2="512.8" y2="518.2" stroke="#333" stroke-width="1"/>
<path d="M438.4 514 V469.4 H452.6 V514" fill="none" stroke="#1f8fff" stroke-width="1" opacity="0.8"/>
<path d="M461 514 V502.4 H475 V514" fill="none" stroke="#ff22ff" stroke-width="1" opacity="0.8"/>
<path d="M483.4 514 V485 H497.6 V514" fill="none" stroke="#19b419" stroke-width="1" opacity="0.8"/>
<path d="M506 514 V499 H519.6 V514" fill="none" stroke="#2020ff" stroke-width="1" opacity="0.8"/>
<line x1="445.6" y1="458.4" x2="445.6" y2="478" stroke="#1f8fff" stroke-width="1"/>
<line x1="442.1" y1="458.4" x2="449.1" y2="458.4" stroke="#1f8fff" stroke-width="1"/>
<line x1="442.1" y1="478" x2="449.1" y2="478" stroke="#1f8fff" stroke-width="1"/>
<line x1="468" y1="497" x2="468" y2="505" stroke="#ff22ff" stroke-width="1"/>
<line x1="464.5" y1="497" x2="471.5" y2="497" stroke="#ff22ff" stroke-width="1"/>
<line x1="464.5" y1="505" x2="471.5" y2="505" stroke="#ff22ff" stroke-width="1"/>
<line x1="490.4" y1="475.5" x2="490.4" y2="490" stroke="#19b419" stroke-width="1"/>
<line x1="486.9" y1="475.5" x2="493.9" y2="475.5" stroke="#19b419" stroke-width="1"/>
<line x1="486.9" y1="490" x2="493.9" y2="490" stroke="#19b419" stroke-width="1"/>
<line x1="512.8" y1="493" x2="512.8" y2="503" stroke="#2020ff" stroke-width="1"/>
<line x1="509.3" y1="493" x2="516.3" y2="493" stroke="#2020ff" stroke-width="1"/>
<line x1="509.3" y1="503" x2="516.3" y2="503" stroke="#2020ff" stroke-width="1"/>
<circle cx="445.6" cy="455.4" r="2.4" fill="#1f8fff"/>
<circle cx="440" cy="465.4" r="2.4" fill="#1f8fff"/>
<circle cx="451" cy="465.4" r="2.4" fill="#1f8fff"/>
<circle cx="445.6" cy="476" r="2.4" fill="#1f8fff"/>
<circle cx="445.6" cy="481" r="2.4" fill="#1f8fff"/>
<circle cx="468" cy="495" r="2.4" fill="#ff22ff"/>
<circle cx="463" cy="502" r="2.4" fill="#ff22ff"/>
<circle cx="473" cy="501" r="2.4" fill="#ff22ff"/>
<circle cx="468" cy="499" r="2.4" fill="#ff22ff"/>
<circle cx="469" cy="503" r="2.4" fill="#ff22ff"/>
<circle cx="490.4" cy="473" r="2.4" fill="#19b419"/>
<circle cx="485" cy="480" r="2.4" fill="#19b419"/>
<circle cx="496" cy="479" r="2.4" fill="#19b419"/>
<circle cx="485" cy="485" r="2.4" fill="#19b419"/>
<circle cx="496" cy="484.4" r="2.4" fill="#19b419"/>
<circle cx="512.8" cy="492" r="2.4" fill="#2020ff"/>
<circle cx="507" cy="498" r="2.4" fill="#2020ff"/>
<circle cx="518" cy="497.4" r="2.4" fill="#2020ff"/>
<circle cx="510" cy="498.5" r="2.4" fill="#2020ff"/>
<circle cx="515" cy="498.5" r="2.4" fill="#2020ff"/>
<line x1="445.6" y1="438.4" x2="468.4" y2="438.4" stroke="#333" stroke-width="1"/>
<text x="460.2" y="434" font-size="7.7" text-anchor="middle" fill="#333"><tspan font-style="italic">P</tspan> &lt; 0.0001</text>
<line x1="468.4" y1="453" x2="490.4" y2="453" stroke="#333" stroke-width="1"/>
<text x="485.5" y="448.4" font-size="7.7" text-anchor="middle" fill="#333"><tspan font-style="italic">P</tspan> = 0.0003</text>
<line x1="490.4" y1="467.4" x2="513" y2="467.4" stroke="#333" stroke-width="1"/>
<text x="507.7" y="462.6" font-size="7.7" text-anchor="middle" fill="#333"><tspan font-style="italic">P</tspan> = 0.0029</text>
<text x="450.6" y="523.2" font-size="8" text-anchor="end" fill="#222" transform="rotate(-45 450.6 523.2)">Health</text>
<text x="473" y="523.2" font-size="8" text-anchor="end" fill="#222" transform="rotate(-45 473 523.2)">AOM/DSS</text>
<text x="495.4" y="523.2" font-size="8" text-anchor="end" fill="#222" transform="rotate(-45 495.4 523.2)">PrEXO-a23</text>
<text x="517.8" y="523.2" font-size="8" text-anchor="end" fill="#222" transform="rotate(-45 517.8 523.2)">PrEXO-a23 + ip53</text>
<path d="M586.6 417.4 H684 V514" fill="none" stroke="#777" stroke-width="1"/>
<line x1="586.6" y1="416.9" x2="586.6" y2="514" stroke="#333" stroke-width="1"/>
<line x1="582.2" y1="514" x2="684" y2="514" stroke="#333" stroke-width="1"/>
<line x1="582.2" y1="514" x2="586.6" y2="514" stroke="#333" stroke-width="1"/>
<text x="578.8" y="516.66" font-size="9.5" text-anchor="end" fill="#222">0.0</text>
<line x1="582.2" y1="481.8" x2="586.6" y2="481.8" stroke="#333" stroke-width="1"/>
<text x="578.8" y="484.46" font-size="9.5" text-anchor="end" fill="#222">0.5</text>
<line x1="582.2" y1="449.6" x2="586.6" y2="449.6" stroke="#333" stroke-width="1"/>
<text x="578.8" y="452.26" font-size="9.5" text-anchor="end" fill="#222">1.0</text>
<line x1="582.2" y1="417.4" x2="586.6" y2="417.4" stroke="#333" stroke-width="1"/>
<text x="578.8" y="420.06" font-size="9.5" text-anchor="end" fill="#222">1.5</text>
<text x="634" y="413" font-size="9" text-anchor="middle" fill="#222" font-weight="bold" font-style="italic">Bax</text>
<text x="560" y="463.5" font-size="8.8" text-anchor="middle" fill="#222" transform="rotate(-90 560 463.5)">Relative mRNA level</text>
<line x1="601.6" y1="514" x2="601.6" y2="518.2" stroke="#333" stroke-width="1"/>
<line x1="624" y1="514" x2="624" y2="518.2" stroke="#333" stroke-width="1"/>
<line x1="646.4" y1="514" x2="646.4" y2="518.2" stroke="#333" stroke-width="1"/>
<line x1="668.8" y1="514" x2="668.8" y2="518.2" stroke="#333" stroke-width="1"/>
<path d="M594.6 514 V468.4 H608.6 V514" fill="none" stroke="#1f8fff" stroke-width="1" opacity="0.8"/>
<path d="M617 514 V510.4 H631 V514" fill="none" stroke="#ff22ff" stroke-width="1" opacity="0.8"/>
<path d="M639.4 514 V483.6 H653.4 V514" fill="none" stroke="#19b419" stroke-width="1" opacity="0.8"/>
<path d="M662 514 V503.6 H675.6 V514" fill="none" stroke="#2020ff" stroke-width="1" opacity="0.8"/>
<line x1="601.6" y1="453.4" x2="601.6" y2="481.6" stroke="#1f8fff" stroke-width="1"/>
<line x1="598.1" y1="453.4" x2="605.1" y2="453.4" stroke="#1f8fff" stroke-width="1"/>
<line x1="598.1" y1="481.6" x2="605.1" y2="481.6" stroke="#1f8fff" stroke-width="1"/>
<line x1="624" y1="506" x2="624" y2="514" stroke="#ff22ff" stroke-width="1"/>
<line x1="620.5" y1="506" x2="627.5" y2="506" stroke="#ff22ff" stroke-width="1"/>
<line x1="620.5" y1="514" x2="627.5" y2="514" stroke="#ff22ff" stroke-width="1"/>
<line x1="646.4" y1="474.4" x2="646.4" y2="491.6" stroke="#19b419" stroke-width="1"/>
<line x1="642.9" y1="474.4" x2="649.9" y2="474.4" stroke="#19b419" stroke-width="1"/>
<line x1="642.9" y1="491.6" x2="649.9" y2="491.6" stroke="#19b419" stroke-width="1"/>
<line x1="668.8" y1="498" x2="668.8" y2="508" stroke="#2020ff" stroke-width="1"/>
<line x1="665.3" y1="498" x2="672.3" y2="498" stroke="#2020ff" stroke-width="1"/>
<line x1="665.3" y1="508" x2="672.3" y2="508" stroke="#2020ff" stroke-width="1"/>
<circle cx="601.6" cy="449.6" r="2.4" fill="#1f8fff"/>
<circle cx="596" cy="461.6" r="2.4" fill="#1f8fff"/>
<circle cx="607" cy="461.6" r="2.4" fill="#1f8fff"/>
<circle cx="601.6" cy="478.4" r="2.4" fill="#1f8fff"/>
<circle cx="601.6" cy="485.4" r="2.4" fill="#1f8fff"/>
<circle cx="624" cy="505" r="2.4" fill="#ff22ff"/>
<circle cx="618" cy="510.4" r="2.4" fill="#ff22ff"/>
<circle cx="621" cy="510.4" r="2.4" fill="#ff22ff"/>
<circle cx="627" cy="510.4" r="2.4" fill="#ff22ff"/>
<circle cx="630" cy="510.4" r="2.4" fill="#ff22ff"/>
<circle cx="646.4" cy="467" r="2.4" fill="#19b419"/>
<circle cx="640" cy="487" r="2.4" fill="#19b419"/>
<circle cx="644.5" cy="487" r="2.4" fill="#19b419"/>
<circle cx="649" cy="487" r="2.4" fill="#19b419"/>
<circle cx="653" cy="487" r="2.4" fill="#19b419"/>
<circle cx="668.8" cy="497" r="2.4" fill="#2020ff"/>
<circle cx="662.4" cy="500" r="2.4" fill="#2020ff"/>
<circle cx="675" cy="502.4" r="2.4" fill="#2020ff"/>
<circle cx="662.4" cy="505" r="2.4" fill="#2020ff"/>
<circle cx="669" cy="503" r="2.4" fill="#2020ff"/>
<line x1="601.6" y1="445.4" x2="624" y2="445.4" stroke="#333" stroke-width="1"/>
<text x="616.5" y="440.6" font-size="7.7" text-anchor="middle" fill="#333"><tspan font-style="italic">P</tspan> &lt; 0.0001</text>
<line x1="624" y1="459.6" x2="646.6" y2="459.6" stroke="#333" stroke-width="1"/>
<text x="641.3" y="457" font-size="7.7" text-anchor="middle" fill="#333"><tspan font-style="italic">P</tspan> = 0.0009</text>
<line x1="646.4" y1="436.6" x2="669" y2="436.6" stroke="#333" stroke-width="1"/>
<text x="661.3" y="431.6" font-size="7.7" text-anchor="middle" fill="#333"><tspan font-style="italic">P</tspan> = 0.0160</text>
<text x="606.6" y="523.2" font-size="8" text-anchor="end" fill="#222" transform="rotate(-45 606.6 523.2)">Health</text>
<text x="629" y="523.2" font-size="8" text-anchor="end" fill="#222" transform="rotate(-45 629 523.2)">AOM/DSS</text>
<text x="651.4" y="523.2" font-size="8" text-anchor="end" fill="#222" transform="rotate(-45 651.4 523.2)">PrEXO-a23</text>
<text x="673.8" y="523.2" font-size="8" text-anchor="end" fill="#222" transform="rotate(-45 673.8 523.2)">PrEXO-a23 + ip53</text>
<text x="7.3" y="586" font-size="18" text-anchor="start" fill="#000" font-weight="bold">i</text>
<rect x="52.9" y="585.8" width="141.4" height="26.1" rx="1" fill="#fbfbfb" stroke="#111" stroke-width="1.1"/>
<rect x="56.5" y="588.3" width="32" height="21.1" fill="#f0f0f0" filter="url(#blur2)"/>
<rect x="90" y="588.3" width="32" height="21.1" fill="#f0f0f0" filter="url(#blur2)"/>
<rect x="123.5" y="588.3" width="32" height="21.1" fill="#f0f0f0" filter="url(#blur2)"/>
<rect x="157" y="588.3" width="32" height="21.1" fill="#f0f0f0" filter="url(#blur2)"/>
<rect x="59" y="598" width="26" height="7.2" rx="1.5" fill="#6c6c6c" filter="url(#blur)"/>
<rect x="91.6" y="599.2" width="26.4" height="4.6" rx="1.5" fill="#909090" filter="url(#blur)"/>
<rect x="125" y="598" width="26.6" height="7.6" rx="1.5" fill="#646464" filter="url(#blur)"/>
<rect x="158" y="599.2" width="27" height="4.6" rx="1.5" fill="#929292" filter="url(#blur)"/>
<text x="46.8" y="601.75" font-size="7.8" text-anchor="end" fill="#222">Bax</text>
<text x="198.6" y="601.75" font-size="7.8" text-anchor="start" fill="#222">21 kDa</text>
<rect x="52.9" y="618.7" width="141.4" height="25.4" rx="1" fill="#fbfbfb" stroke="#111" stroke-width="1.1"/>
<rect x="56.5" y="621.2" width="32" height="20.4" fill="#f0f0f0" filter="url(#blur2)"/>
<rect x="90" y="621.2" width="32" height="20.4" fill="#f0f0f0" filter="url(#blur2)"/>
<rect x="123.5" y="621.2" width="32" height="20.4" fill="#f0f0f0" filter="url(#blur2)"/>
<rect x="157" y="621.2" width="32" height="20.4" fill="#f0f0f0" filter="url(#blur2)"/>
<rect x="60" y="624.5" width="26" height="13" rx="1.5" fill="url(#gp21)" filter="url(#blur)"/>
<rect x="93" y="628" width="27" height="8" rx="1.5" fill="#d6d6d6" filter="url(#blur)"/>
<rect x="127" y="625.8" width="26.6" height="8.4" rx="1.5" fill="#444" filter="url(#blur)"/>
<rect x="161" y="628" width="26.6" height="5.5" rx="1.5" fill="#777" filter="url(#blur)"/>
<text x="46.8" y="635.5" font-size="7.8" text-anchor="end" fill="#222">p21</text>
<text x="198.6" y="635.5" font-size="7.8" text-anchor="start" fill="#222">20 kDa</text>
<rect x="52.9" y="651" width="141.4" height="26.1" rx="1" fill="#fbfbfb" stroke="#111" stroke-width="1.1"/>
<rect x="56.5" y="653.5" width="32" height="21.1" fill="#f0f0f0" filter="url(#blur2)"/>
<rect x="90" y="653.5" width="32" height="21.1" fill="#f0f0f0" filter="url(#blur2)"/>
<rect x="123.5" y="653.5" width="32" height="21.1" fill="#f0f0f0" filter="url(#blur2)"/>
<rect x="157" y="653.5" width="32" height="21.1" fill="#f0f0f0" filter="url(#blur2)"/>
<rect x="60" y="660" width="26.4" height="6" rx="1.5" fill="#707070" filter="url(#blur)"/>
<rect x="93.6" y="660" width="26.4" height="4.8" rx="1.5" fill="#9e9e9e" filter="url(#blur)"/>
<rect x="127" y="660" width="27.4" height="6" rx="1.5" fill="#6a6a6a" filter="url(#blur)"/>
<rect x="161" y="661" width="27.4" height="4.4" rx="1.5" fill="#858585" filter="url(#blur)"/>
<text x="46.8" y="666.95" font-size="7.8" text-anchor="end" fill="#222">p53</text>
<text x="198.6" y="666.95" font-size="7.8" text-anchor="start" fill="#222">48 kDa</text>
<rect x="52.9" y="683.8" width="141.4" height="25.5" rx="1" fill="#fbfbfb" stroke="#111" stroke-width="1.1"/>
<rect x="56.5" y="686.3" width="32" height="20.5" fill="#f0f0f0" filter="url(#blur2)"/>
<rect x="90" y="686.3" width="32" height="20.5" fill="#f0f0f0" filter="url(#blur2)"/>
<rect x="123.5" y="686.3" width="32" height="20.5" fill="#f0f0f0" filter="url(#blur2)"/>
<rect x="157" y="686.3" width="32" height="20.5" fill="#f0f0f0" filter="url(#blur2)"/>
<rect x="57" y="694" width="29" height="7" rx="1.5" fill="#606060" filter="url(#blur)"/>
<rect x="89.6" y="693" width="28.8" height="7" rx="1.5" fill="#606060" filter="url(#blur)"/>
<rect x="122" y="693.6" width="29.6" height="6.6" rx="1.5" fill="#5e5e5e" filter="url(#blur)"/>
<rect x="155" y="694" width="29.4" height="7" rx="1.5" fill="#606060" filter="url(#blur)"/>
<text x="46.8" y="699.45" font-size="7.8" text-anchor="end" fill="#222">GAPDH</text>
<text x="198.6" y="699.45" font-size="7.8" text-anchor="start" fill="#222">36 kDa</text>
<text x="75.8" y="716.5" font-size="7.8" text-anchor="end" fill="#222" transform="rotate(-45 75.8 716.5)">Health</text>
<text x="111.2" y="716.5" font-size="7.8" text-anchor="end" fill="#222" transform="rotate(-45 111.2 716.5)">AOM/DSS</text>
<text x="146.6" y="716.5" font-size="7.8" text-anchor="end" fill="#222" transform="rotate(-45 146.6 716.5)">PrEXO-a23</text>
<text x="182" y="716.5" font-size="7.8" text-anchor="end" fill="#222" transform="rotate(-45 182 716.5)">PrEXO-a23 + ip53</text>
<text x="259" y="584" font-size="18" text-anchor="start" fill="#000" font-weight="bold">j</text>
<line x1="297.4" y1="613" x2="297.4" y2="709.5" stroke="#333" stroke-width="1"/>
<line x1="293" y1="709.5" x2="394" y2="709.5" stroke="#333" stroke-width="1"/>
<line x1="293" y1="709.5" x2="297.4" y2="709.5" stroke="#333" stroke-width="1"/>
<text x="290.9" y="712.07" font-size="9.5" text-anchor="end" fill="#222">0.0</text>
<line x1="293" y1="677.2" x2="297.4" y2="677.2" stroke="#333" stroke-width="1"/>
<text x="290.9" y="679.77" font-size="9.5" text-anchor="end" fill="#222">0.5</text>
<line x1="293" y1="645.4" x2="297.4" y2="645.4" stroke="#333" stroke-width="1"/>
<text x="290.9" y="647.97" font-size="9.5" text-anchor="end" fill="#222">1.0</text>
<line x1="293" y1="613.6" x2="297.4" y2="613.6" stroke="#333" stroke-width="1"/>
<text x="290.9" y="616.17" font-size="9.5" text-anchor="end" fill="#222">1.5</text>
<line x1="312.4" y1="709.5" x2="312.4" y2="713.2" stroke="#333" stroke-width="1"/>
<line x1="334.4" y1="709.5" x2="334.4" y2="713.2" stroke="#333" stroke-width="1"/>
<line x1="356.4" y1="709.5" x2="356.4" y2="713.2" stroke="#333" stroke-width="1"/>
<line x1="378.6" y1="709.5" x2="378.6" y2="713.2" stroke="#333" stroke-width="1"/>
<text x="316.6" y="718.1" font-size="8" text-anchor="end" fill="#222" transform="rotate(-45 316.6 718.1)">Health</text>
<text x="338.6" y="718.1" font-size="8" text-anchor="end" fill="#222" transform="rotate(-45 338.6 718.1)">AOM/DSS</text>
<text x="360.6" y="718.1" font-size="8" text-anchor="end" fill="#222" transform="rotate(-45 360.6 718.1)">PrEXO-a23</text>
<text x="382.8" y="718.1" font-size="8" text-anchor="end" fill="#222" transform="rotate(-45 382.8 718.1)">PrEXO-a23 + ip53</text>
<text x="342.3" y="588" font-size="9" text-anchor="middle" fill="#222" font-weight="bold">p53</text>
<text x="273" y="659.2" font-size="8.8" text-anchor="middle" fill="#222" transform="rotate(-90 273 659.2)">Relative protein expression</text>
<path d="M305.4 709.5 V646 H319.4 V709.5" fill="none" stroke="#2eb4f5" stroke-width="1" opacity="0.85"/>
<path d="M327.4 709.5 V681 H341.4 V709.5" fill="none" stroke="#fb3cfb" stroke-width="1" opacity="0.85"/>
<path d="M349.4 709.5 V649.4 H363.4 V709.5" fill="none" stroke="#3cb43c" stroke-width="1" opacity="0.85"/>
<path d="M371.6 709.5 V683.4 H385.4 V709.5" fill="none" stroke="#3a3aef" stroke-width="1" opacity="0.85"/>
<line x1="312.4" y1="628" x2="312.4" y2="661.6" stroke="#2eb4f5" stroke-width="1"/>
<line x1="308.9" y1="628" x2="315.9" y2="628" stroke="#2eb4f5" stroke-width="1"/>
<line x1="308.9" y1="661.6" x2="315.9" y2="661.6" stroke="#2eb4f5" stroke-width="1"/>
<line x1="334.4" y1="671.4" x2="334.4" y2="690" stroke="#fb3cfb" stroke-width="1"/>
<line x1="330.9" y1="671.4" x2="337.9" y2="671.4" stroke="#fb3cfb" stroke-width="1"/>
<line x1="330.9" y1="690" x2="337.9" y2="690" stroke="#fb3cfb" stroke-width="1"/>
<line x1="356.4" y1="636.6" x2="356.4" y2="661" stroke="#3cb43c" stroke-width="1"/>
<line x1="352.9" y1="636.6" x2="359.9" y2="636.6" stroke="#3cb43c" stroke-width="1"/>
<line x1="352.9" y1="661" x2="359.9" y2="661" stroke="#3cb43c" stroke-width="1"/>
<line x1="378.6" y1="675" x2="378.6" y2="691" stroke="#3a3aef" stroke-width="1"/>
<line x1="375.1" y1="675" x2="382.1" y2="675" stroke="#3a3aef" stroke-width="1"/>
<line x1="375.1" y1="691" x2="382.1" y2="691" stroke="#3a3aef" stroke-width="1"/>
<circle cx="312.4" cy="626.4" r="2.2" stroke="#2eb4f5" fill="none" stroke-width="1"/>
<circle cx="312.4" cy="652" r="2.2" stroke="#2eb4f5" fill="none" stroke-width="1"/>
<circle cx="312.4" cy="658" r="2.2" stroke="#2eb4f5" fill="none" stroke-width="1"/>
<circle cx="329" cy="674.6" r="2.2" stroke="#fb3cfb" fill="none" stroke-width="1"/>
<circle cx="339.6" cy="674.6" r="2.2" stroke="#fb3cfb" fill="none" stroke-width="1"/>
<circle cx="334.4" cy="691" r="2.2" stroke="#fb3cfb" fill="none" stroke-width="1"/>
<circle cx="356.4" cy="639.6" r="2.2" stroke="#3cb43c" fill="none" stroke-width="1"/>
<circle cx="356.4" cy="644" r="2.2" stroke="#3cb43c" fill="none" stroke-width="1"/>
<circle cx="356.4" cy="662" r="2.2" stroke="#3cb43c" fill="none" stroke-width="1"/>
<circle cx="378.4" cy="675" r="2.2" stroke="#3a3aef" fill="none" stroke-width="1"/>
<circle cx="378.4" cy="682" r="2.2" stroke="#3a3aef" fill="none" stroke-width="1"/>
<circle cx="378.4" cy="691.6" r="2.2" stroke="#3a3aef" fill="none" stroke-width="1"/>
<line x1="312" y1="617.4" x2="334.6" y2="617.4" stroke="#333" stroke-width="1"/>
<text x="329.7" y="614.4" font-size="7.7" text-anchor="middle" fill="#333"><tspan font-style="italic">P</tspan> = 0.0290</text>
<line x1="334.4" y1="634" x2="357" y2="634" stroke="#333" stroke-width="1"/>
<text x="351.8" y="631.6" font-size="7.7" text-anchor="middle" fill="#333"><tspan font-style="italic">P</tspan> = 0.0466</text>
<line x1="357" y1="617.4" x2="378.6" y2="617.4" stroke="#333" stroke-width="1"/>
<text x="375.3" y="615" font-size="7.7" text-anchor="middle" fill="#333"><tspan font-style="italic">P</tspan> = 0.0311</text>
<line x1="444.4" y1="613" x2="444.4" y2="709.5" stroke="#333" stroke-width="1"/>
<line x1="440" y1="709.5" x2="540.6" y2="709.5" stroke="#333" stroke-width="1"/>
<line x1="440" y1="709.5" x2="444.4" y2="709.5" stroke="#333" stroke-width="1"/>
<text x="437.9" y="712.07" font-size="9.5" text-anchor="end" fill="#222">0.0</text>
<line x1="440" y1="677.2" x2="444.4" y2="677.2" stroke="#333" stroke-width="1"/>
<text x="437.9" y="679.77" font-size="9.5" text-anchor="end" fill="#222">0.5</text>
<line x1="440" y1="645.4" x2="444.4" y2="645.4" stroke="#333" stroke-width="1"/>
<text x="437.9" y="647.97" font-size="9.5" text-anchor="end" fill="#222">1.0</text>
<line x1="440" y1="613.6" x2="444.4" y2="613.6" stroke="#333" stroke-width="1"/>
<text x="437.9" y="616.17" font-size="9.5" text-anchor="end" fill="#222">1.5</text>
<line x1="459" y1="709.5" x2="459" y2="713.2" stroke="#333" stroke-width="1"/>
<line x1="481.4" y1="709.5" x2="481.4" y2="713.2" stroke="#333" stroke-width="1"/>
<line x1="503.4" y1="709.5" x2="503.4" y2="713.2" stroke="#333" stroke-width="1"/>
<line x1="525.6" y1="709.5" x2="525.6" y2="713.2" stroke="#333" stroke-width="1"/>
<text x="463.2" y="718.1" font-size="8" text-anchor="end" fill="#222" transform="rotate(-45 463.2 718.1)">Health</text>
<text x="485.6" y="718.1" font-size="8" text-anchor="end" fill="#222" transform="rotate(-45 485.6 718.1)">AOM/DSS</text>
<text x="507.6" y="718.1" font-size="8" text-anchor="end" fill="#222" transform="rotate(-45 507.6 718.1)">PrEXO-a23</text>
<text x="529.8" y="718.1" font-size="8" text-anchor="end" fill="#222" transform="rotate(-45 529.8 718.1)">PrEXO-a23 + ip53</text>
<text x="489.6" y="588.4" font-size="9" text-anchor="middle" fill="#222" font-weight="bold">p21</text>
<text x="419.8" y="659.2" font-size="8.8" text-anchor="middle" fill="#222" transform="rotate(-90 419.8 659.2)">Relative protein expression</text>
<path d="M452.4 709.5 V645.4 H466 V709.5" fill="none" stroke="#2eb4f5" stroke-width="1" opacity="0.85"/>
<path d="M474.4 709.5 V695.4 H488.4 V709.5" fill="none" stroke="#fb3cfb" stroke-width="1" opacity="0.85"/>
<path d="M496.4 709.5 V645.6 H510 V709.5" fill="none" stroke="#3cb43c" stroke-width="1" opacity="0.85"/>
<path d="M518.6 709.5 V684.4 H532.4 V709.5" fill="none" stroke="#3a3aef" stroke-width="1" opacity="0.85"/>
<line x1="459.2" y1="621.6" x2="459.2" y2="668" stroke="#2eb4f5" stroke-width="1"/>
<line x1="455.7" y1="621.6" x2="462.7" y2="621.6" stroke="#2eb4f5" stroke-width="1"/>
<line x1="455.7" y1="668" x2="462.7" y2="668" stroke="#2eb4f5" stroke-width="1"/>
<line x1="481.4" y1="687.4" x2="481.4" y2="701.4" stroke="#fb3cfb" stroke-width="1"/>
<line x1="477.9" y1="687.4" x2="484.9" y2="687.4" stroke="#fb3cfb" stroke-width="1"/>
<line x1="477.9" y1="701.4" x2="484.9" y2="701.4" stroke="#fb3cfb" stroke-width="1"/>
<line x1="503.4" y1="629.6" x2="503.4" y2="659.4" stroke="#3cb43c" stroke-width="1"/>
<line x1="499.9" y1="629.6" x2="506.9" y2="629.6" stroke="#3cb43c" stroke-width="1"/>
<line x1="499.9" y1="659.4" x2="506.9" y2="659.4" stroke="#3cb43c" stroke-width="1"/>
<line x1="525.6" y1="676.4" x2="525.6" y2="691.4" stroke="#3a3aef" stroke-width="1"/>
<line x1="522.1" y1="676.4" x2="529.1" y2="676.4" stroke="#3a3aef" stroke-width="1"/>
<line x1="522.1" y1="691.4" x2="529.1" y2="691.4" stroke="#3a3aef" stroke-width="1"/>
<circle cx="459.2" cy="621.6" r="2.2" stroke="#2eb4f5" fill="none" stroke-width="1"/>
<circle cx="459.2" cy="645.6" r="2.2" stroke="#2eb4f5" fill="none" stroke-width="1"/>
<circle cx="459.2" cy="668" r="2.2" stroke="#2eb4f5" fill="none" stroke-width="1"/>
<circle cx="481.4" cy="687" r="2.2" stroke="#fb3cfb" fill="none" stroke-width="1"/>
<circle cx="475" cy="700" r="2.2" stroke="#fb3cfb" fill="none" stroke-width="1"/>
<circle cx="486.6" cy="697" r="2.2" stroke="#fb3cfb" fill="none" stroke-width="1"/>
<circle cx="503.4" cy="628" r="2.2" stroke="#3cb43c" fill="none" stroke-width="1"/>
<circle cx="497.6" cy="653.6" r="2.2" stroke="#3cb43c" fill="none" stroke-width="1"/>
<circle cx="509" cy="653.6" r="2.2" stroke="#3cb43c" fill="none" stroke-width="1"/>
<circle cx="525.6" cy="675" r="2.2" stroke="#3a3aef" fill="none" stroke-width="1"/>
<circle cx="519.6" cy="689" r="2.2" stroke="#3a3aef" fill="none" stroke-width="1"/>
<circle cx="531" cy="687.4" r="2.2" stroke="#3a3aef" fill="none" stroke-width="1"/>
<line x1="481.4" y1="603" x2="503.6" y2="603" stroke="#333" stroke-width="1"/>
<text x="489.2" y="599.6" font-size="7.7" text-anchor="middle" fill="#333"><tspan font-style="italic">P</tspan> = 0.0145</text>
<line x1="459" y1="617.4" x2="481.4" y2="617.4" stroke="#333" stroke-width="1"/>
<text x="476.5" y="615" font-size="7.7" text-anchor="middle" fill="#333"><tspan font-style="italic">P</tspan> = 0.0148</text>
<line x1="503.4" y1="623.4" x2="525.6" y2="623.4" stroke="#333" stroke-width="1"/>
<text x="520.7" y="620.4" font-size="7.7" text-anchor="middle" fill="#333"><tspan font-style="italic">P</tspan> = 0.0493</text>
<line x1="586.4" y1="613" x2="586.4" y2="709.5" stroke="#333" stroke-width="1"/>
<line x1="582" y1="709.5" x2="682.4" y2="709.5" stroke="#333" stroke-width="1"/>
<line x1="582" y1="709.5" x2="586.4" y2="709.5" stroke="#333" stroke-width="1"/>
<text x="579.9" y="712.07" font-size="9.5" text-anchor="end" fill="#222">0.0</text>
<line x1="582" y1="677.2" x2="586.4" y2="677.2" stroke="#333" stroke-width="1"/>
<text x="579.9" y="679.77" font-size="9.5" text-anchor="end" fill="#222">0.5</text>
<line x1="582" y1="645.4" x2="586.4" y2="645.4" stroke="#333" stroke-width="1"/>
<text x="579.9" y="647.97" font-size="9.5" text-anchor="end" fill="#222">1.0</text>
<line x1="582" y1="613.6" x2="586.4" y2="613.6" stroke="#333" stroke-width="1"/>
<text x="579.9" y="616.17" font-size="9.5" text-anchor="end" fill="#222">1.5</text>
<line x1="601" y1="709.5" x2="601" y2="713.2" stroke="#333" stroke-width="1"/>
<line x1="623" y1="709.5" x2="623" y2="713.2" stroke="#333" stroke-width="1"/>
<line x1="645.4" y1="709.5" x2="645.4" y2="713.2" stroke="#333" stroke-width="1"/>
<line x1="667.4" y1="709.5" x2="667.4" y2="713.2" stroke="#333" stroke-width="1"/>
<text x="605.2" y="718.1" font-size="8" text-anchor="end" fill="#222" transform="rotate(-45 605.2 718.1)">Health</text>
<text x="627.2" y="718.1" font-size="8" text-anchor="end" fill="#222" transform="rotate(-45 627.2 718.1)">AOM/DSS</text>
<text x="649.6" y="718.1" font-size="8" text-anchor="end" fill="#222" transform="rotate(-45 649.6 718.1)">PrEXO-a23</text>
<text x="671.6" y="718.1" font-size="8" text-anchor="end" fill="#222" transform="rotate(-45 671.6 718.1)">PrEXO-a23 + ip53</text>
<text x="634.3" y="588" font-size="9" text-anchor="middle" fill="#222" font-weight="bold">Bax</text>
<text x="561.8" y="659.2" font-size="8.8" text-anchor="middle" fill="#222" transform="rotate(-90 561.8 659.2)">Relative protein expression</text>
<path d="M594.4 709.5 V646 H608.4 V709.5" fill="none" stroke="#2eb4f5" stroke-width="1" opacity="0.85"/>
<path d="M616.4 709.5 V672.4 H630.4 V709.5" fill="none" stroke="#fb3cfb" stroke-width="1" opacity="0.85"/>
<path d="M638.4 709.5 V649 H652.4 V709.5" fill="none" stroke="#3cb43c" stroke-width="1" opacity="0.85"/>
<path d="M660.4 709.5 V677 H674.4 V709.5" fill="none" stroke="#3a3aef" stroke-width="1" opacity="0.85"/>
<line x1="601.4" y1="631" x2="601.4" y2="658" stroke="#2eb4f5" stroke-width="1"/>
<line x1="597.9" y1="631" x2="604.9" y2="631" stroke="#2eb4f5" stroke-width="1"/>
<line x1="597.9" y1="658" x2="604.9" y2="658" stroke="#2eb4f5" stroke-width="1"/>
<line x1="623.4" y1="672.4" x2="623.4" y2="680" stroke="#fb3cfb" stroke-width="1"/>
<line x1="619.9" y1="672.4" x2="626.9" y2="672.4" stroke="#fb3cfb" stroke-width="1"/>
<line x1="619.9" y1="680" x2="626.9" y2="680" stroke="#fb3cfb" stroke-width="1"/>
<line x1="645.8" y1="635" x2="645.8" y2="661.4" stroke="#3cb43c" stroke-width="1"/>
<line x1="642.3" y1="635" x2="649.3" y2="635" stroke="#3cb43c" stroke-width="1"/>
<line x1="642.3" y1="661.4" x2="649.3" y2="661.4" stroke="#3cb43c" stroke-width="1"/>
<line x1="667.4" y1="667.4" x2="667.4" y2="685.6" stroke="#3a3aef" stroke-width="1"/>
<line x1="663.9" y1="667.4" x2="670.9" y2="667.4" stroke="#3a3aef" stroke-width="1"/>
<line x1="663.9" y1="685.6" x2="670.9" y2="685.6" stroke="#3a3aef" stroke-width="1"/>
<circle cx="601.4" cy="631" r="2.2" stroke="#2eb4f5" fill="none" stroke-width="1"/>
<circle cx="601.4" cy="646.6" r="2.2" stroke="#2eb4f5" fill="none" stroke-width="1"/>
<circle cx="601.4" cy="658" r="2.2" stroke="#2eb4f5" fill="none" stroke-width="1"/>
<circle cx="617.6" cy="674.4" r="2.2" stroke="#fb3cfb" fill="none" stroke-width="1"/>
<circle cx="628.6" cy="674.4" r="2.2" stroke="#fb3cfb" fill="none" stroke-width="1"/>
<circle cx="623.4" cy="681.4" r="2.2" stroke="#fb3cfb" fill="none" stroke-width="1"/>
<circle cx="623.4" cy="673.5" r="2.2" stroke="#fb3cfb" fill="none" stroke-width="1"/>
<circle cx="645.8" cy="633.6" r="2.2" stroke="#3cb43c" fill="none" stroke-width="1"/>
<circle cx="640.4" cy="656.4" r="2.2" stroke="#3cb43c" fill="none" stroke-width="1"/>
<circle cx="651" cy="656.4" r="2.2" stroke="#3cb43c" fill="none" stroke-width="1"/>
<circle cx="667.4" cy="665.6" r="2.2" stroke="#3a3aef" fill="none" stroke-width="1"/>
<circle cx="662" cy="682" r="2.2" stroke="#3a3aef" fill="none" stroke-width="1"/>
<circle cx="673" cy="682" r="2.2" stroke="#3a3aef" fill="none" stroke-width="1"/>
<line x1="623.4" y1="606" x2="645.6" y2="606" stroke="#333" stroke-width="1"/>
<text x="624.7" y="602.6" font-size="7.7" text-anchor="middle" fill="#333"><tspan font-style="italic">P</tspan> = 0.0481</text>
<line x1="601" y1="626.4" x2="623.6" y2="626.4" stroke="#333" stroke-width="1"/>
<text x="618.5" y="623" font-size="7.7" text-anchor="middle" fill="#333"><tspan font-style="italic">P</tspan> = 0.0290</text>
<line x1="645.4" y1="629.4" x2="668" y2="629.4" stroke="#333" stroke-width="1"/>
<text x="662.7" y="627" font-size="7.7" text-anchor="middle" fill="#333"><tspan font-style="italic">P</tspan> = 0.0478</text>
</svg>
</body></html>
